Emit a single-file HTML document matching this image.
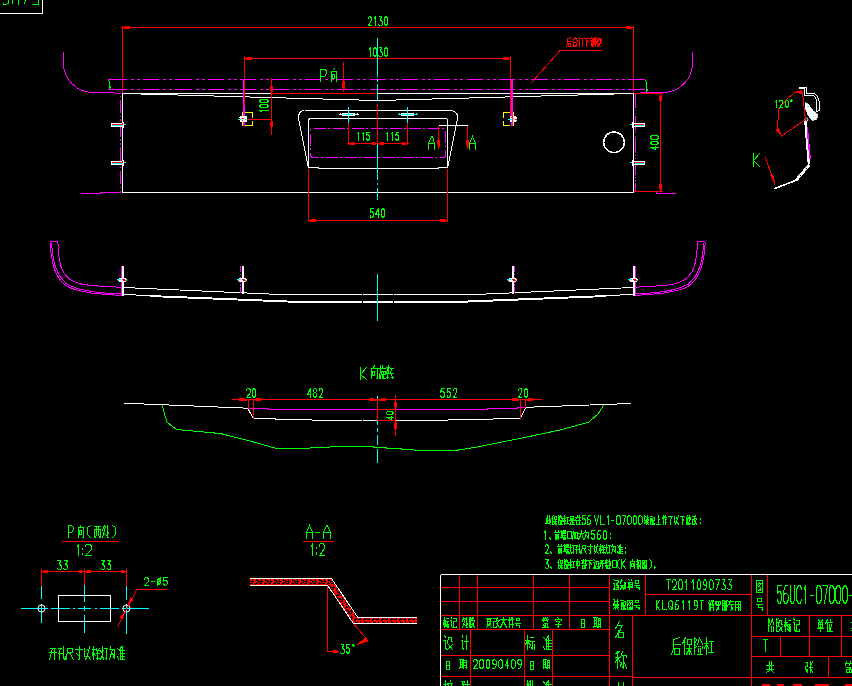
<!DOCTYPE html>
<html><head><meta charset="utf-8"><title>CAD drawing</title>
<style>
html,body{margin:0;padding:0;background:#000;overflow:hidden;font-family:"Liberation Sans",sans-serif;}
svg{display:block;position:absolute;left:0;top:0}
</style></head><body>
<svg width="852" height="686" viewBox="0 0 852 686" fill="none" stroke-linecap="butt" shape-rendering="crispEdges">
<defs><pattern id="hat" width="9" height="6" patternUnits="userSpaceOnUse" x="250" y="579"><rect width="9" height="6" fill="#f00"/><path d="M0 2.5H4M2.5 0V2M2.5 3V4.5H0M6.5 0V1.5H9M4.5 4.5H8M6.5 3V4M5.5 5V6M8.5 2V3.5" stroke="#000" stroke-width="1"/></pattern></defs>
<rect x="0" y="0" width="852" height="686" fill="#000" stroke="none"/>
<path d="M0 13.5L42.5 13.5L42.5 0" stroke="#ffffff" stroke-width="1"/>
<path d="M8 0V3.5L6.5 4.5H4L3 3.2" stroke="#00ff00" stroke-width="1"/>
<path d="M12.2 0L12.2 3.8" stroke="#00ff00" stroke-width="1"/>
<path d="M18.8 0L18.8 4.7" stroke="#00ff00" stroke-width="1"/>
<path d="M25.8 0L24 3.8" stroke="#00ff00" stroke-width="1"/>
<path d="M32 4.4L38 4.4L38 0" stroke="#00ff00" stroke-width="1"/>
<path d="M122.5 27.5L633.5 27.5" stroke="#ff0000" stroke-width="1"/>
<path d="M122.5 26L122.5 93" stroke="#ff0000" stroke-width="1"/>
<path d="M633.5 26L633.5 93" stroke="#ff0000" stroke-width="1"/>
<path d="M121 27.5L123 27.5" stroke="#ff0000" stroke-width="1"/>
<rect x="124" y="26.5" width="1.2" height="2" fill="#ff0000"/>
<rect x="125.2" y="26" width="4.8" height="3" fill="#ff0000"/>
<rect x="630.8" y="26.5" width="1.2" height="2" fill="#ff0000"/>
<rect x="626" y="26" width="4.8" height="3" fill="#ff0000"/>
<path d="M368.5 18.5L368.5 17.5L369.5 16.5L370.5 16.5L371.5 18.5L371.5 20.5L368.5 25.5L371.5 25.5M374.5 18.5L375.5 16.5L375.5 25.5M379.5 16.5L381.5 16.5L380.5 20.5L381.5 20.5L382.5 22.5L382.5 24.5L381.5 25.5L379.5 25.5L378.5 24.5M385.5 16.5L386.5 16.5L387.5 18.5L387.5 23.5L386.5 25.5L385.5 25.5L384.5 23.5L384.5 18.5L385.5 16.5" stroke="#00ff00" stroke-width="1" stroke-linecap="square"/>
<path d="M244.5 58.5L510.5 58.5" stroke="#ff0000" stroke-width="1"/>
<path d="M244.5 56L244.5 80" stroke="#ff0000" stroke-width="1"/>
<path d="M510.5 56L510.5 80" stroke="#ff0000" stroke-width="1"/>
<rect x="246" y="57.5" width="1.2" height="2" fill="#ff0000"/>
<rect x="247.2" y="57" width="4.8" height="3" fill="#ff0000"/>
<rect x="507.8" y="57.5" width="1.2" height="2" fill="#ff0000"/>
<rect x="503" y="57" width="4.8" height="3" fill="#ff0000"/>
<path d="M369.5 49.5L370.5 47.5L370.5 56.5M374.5 47.5L375.5 47.5L376.5 49.5L376.5 54.5L375.5 56.5L374.5 56.5L373.5 54.5L373.5 49.5L374.5 47.5M379.5 47.5L381.5 47.5L380.5 51.5L381.5 51.5L382.5 53.5L382.5 55.5L381.5 56.5L379.5 56.5L378.5 55.5M385.5 47.5L386.5 47.5L387.5 49.5L387.5 54.5L386.5 56.5L385.5 56.5L384.5 54.5L384.5 49.5L385.5 47.5" stroke="#00ff00" stroke-width="1" stroke-linecap="square"/>
<path d="M108 79.5L110.64 79.5" stroke="#ff00ff" stroke-width="1"/>
<path d="M110.64 79.5L647 79.5" stroke="#ff00ff" stroke-width="1" stroke-dasharray="16.2 4 3 3 3 3.16"/>
<path d="M108 89.5L110.64 89.5" stroke="#ff00ff" stroke-width="1"/>
<path d="M110.64 89.5L647 89.5" stroke="#ff00ff" stroke-width="1" stroke-dasharray="16.2 4 3 3 3 3.16"/>
<path d="M108.5 80.5L109.5 81.5V88.5" stroke="#00ff00" stroke-width="1"/>
<path d="M110.5 86L110.5 88" stroke="#00ff00" stroke-width="1"/>
<path d="M645.5 80.5L646.5 81.5V93.5" stroke="#00ff00" stroke-width="1"/>
<path d="M647.5 89L647.5 91" stroke="#00ff00" stroke-width="1"/>
<path d="M63.5 52V63A29.5 29.5 0 0 0 93 92.5H115M115 93.5H120.5V94" stroke="#ff00ff" stroke-width="1"/>
<path d="M692.5 52V63A29.5 29.5 0 0 1 663 92.5H641" stroke="#ff00ff" stroke-width="1"/>
<path d="M120.5 94L120.5 192" stroke="#ff00ff" stroke-width="1" stroke-dasharray="13.7 2.2 1.6 2.3 1.6 2.3" stroke-dashoffset="18.1"/>
<path d="M120.5 192.5L100 192.5L100 193.5L81 193.5" stroke="#ff00ff" stroke-width="1"/>
<path d="M635.5 94L635.5 192" stroke="#ff00ff" stroke-width="1" stroke-dasharray="14.4 2 1.3 2.1 1.3 1.35" stroke-dashoffset="0.75"/>
<path d="M633.5 191.5L656 191.5L656 193.5L676 193.5" stroke="#ff00ff" stroke-width="1"/>
<path d="M122.5 192.5L122.5 93.5L633.5 93.5L633.5 192.5" stroke="#ffffff" stroke-width="1"/>
<path d="M122.5 192.5L633.5 192.5" stroke="#ffffff" stroke-width="1"/>
<path d="M141 94.5L177.5 94.5" stroke="#ffffff" stroke-width="1"/>
<path d="M177.5 95.5L213.75 95.5" stroke="#ffffff" stroke-width="1"/>
<path d="M213.75 96.5L250 96.5" stroke="#ffffff" stroke-width="1"/>
<path d="M250 97.5L286 97.5" stroke="#ffffff" stroke-width="1"/>
<path d="M286 98.5L323 98.5" stroke="#ffffff" stroke-width="1"/>
<path d="M323 99.5L359 99.5" stroke="#ffffff" stroke-width="1"/>
<path d="M359 100.5L395.5 100.5" stroke="#ffffff" stroke-width="1"/>
<path d="M395.5 99.5L432 99.5" stroke="#ffffff" stroke-width="1"/>
<path d="M432 98.5L469 98.5" stroke="#ffffff" stroke-width="1"/>
<path d="M469 97.5L505 97.5" stroke="#ffffff" stroke-width="1"/>
<path d="M505 96.5L541 96.5" stroke="#ffffff" stroke-width="1"/>
<path d="M541 95.5L578 95.5" stroke="#ffffff" stroke-width="1"/>
<path d="M578 94.5L614 94.5" stroke="#ffffff" stroke-width="1"/>
<path d="M271 93.5L377.5 93.5" stroke="#ff0000" stroke-width="1"/>
<path d="M633.5 93.5L662.5 93.5" stroke="#ff0000" stroke-width="1"/>
<path d="M633.5 191.5L662.5 191.5" stroke="#ff0000" stroke-width="1"/>
<path d="M660.5 93.5L660.5 191.5" stroke="#ff0000" stroke-width="1"/>
<rect x="659.5" y="95" width="2" height="1.2" fill="#ff0000"/>
<rect x="659" y="96.2" width="3" height="4.8" fill="#ff0000"/>
<rect x="659.5" y="188.8" width="2" height="1.2" fill="#ff0000"/>
<rect x="659" y="184" width="3" height="4.8" fill="#ff0000"/>
<path d="M658.5 147.5L650.5 147.5L655.5 149.5L655.5 146.5M650.5 143.5L650.5 142.5L652.5 141.5L656.5 141.5L658.5 142.5L658.5 143.5L656.5 144.5L652.5 144.5L650.5 143.5M650.5 138.5L650.5 136.5L652.5 135.5L656.5 135.5L658.5 136.5L658.5 138.5L656.5 139.5L652.5 139.5L650.5 138.5" stroke="#00ff00" stroke-width="1" stroke-linecap="square"/>
<path d="M243.5 79.5L243.5 126" stroke="#ff00ff" stroke-width="1"/>
<path d="M244.5 106L244.5 126" stroke="#ff00ff" stroke-width="1"/>
<path d="M244.5 80L244.5 106" stroke="#ff0000" stroke-width="1"/>
<path d="M512 79.5L512 126" stroke="#ff00ff" stroke-width="2"/>
<path d="M510.5 80L510.5 116" stroke="#ff0000" stroke-width="1"/>
<path d="M271.5 78L271.5 135" stroke="#ff0000" stroke-width="1"/>
<path d="M247 119.5L271.5 119.5" stroke="#ff0000" stroke-width="1"/>
<rect x="270.5" y="90.8" width="2" height="1.2" fill="#ff0000"/>
<rect x="270" y="86" width="3" height="4.8" fill="#ff0000"/>
<rect x="270.5" y="121" width="2" height="1.2" fill="#ff0000"/>
<rect x="270" y="122.2" width="3" height="4.8" fill="#ff0000"/>
<path d="M261.5 111.5L259.5 110.5L268.5 110.5M259.5 106.5L259.5 105.5L261.5 104.5L266.5 104.5L268.5 105.5L268.5 106.5L266.5 107.5L261.5 107.5L259.5 106.5M259.5 101.5L259.5 100.5L261.5 99.5L266.5 99.5L268.5 100.5L268.5 101.5L266.5 102.5L261.5 102.5L259.5 101.5" stroke="#00ff00" stroke-width="1" stroke-linecap="square"/>
<path d="M245 112.5L252.5 112.5L252.5 118" stroke="#ffff00" stroke-width="1"/>
<path d="M252.5 121L252.5 125.5L245 125.5" stroke="#ffff00" stroke-width="1"/>
<path d="M242.5 112L242.5 126" stroke="#ffff00" stroke-width="1"/>
<path d="M510 112.5L503.5 112.5L503.5 118" stroke="#ffff00" stroke-width="1"/>
<path d="M503.5 121L503.5 125.5L510 125.5" stroke="#ffff00" stroke-width="1"/>
<path d="M513.5 112L513.5 126" stroke="#ffff00" stroke-width="1"/>
<path d="M240 116H247V122H240V118H239V117H240Z" fill="#fff"/>
<path d="M510 116H516V117H517V121H516V122H510Z" fill="#fff"/>
<path d="M238 119.5L241 119.5" stroke="#00ffff" stroke-width="1"/>
<path d="M245 119.5L247 119.5" stroke="#00ffff" stroke-width="1"/>
<path d="M245 117.5L246 117.5" stroke="#ffff00" stroke-width="1"/>
<path d="M242 118.5L244 118.5" stroke="#ff0000" stroke-width="1"/>
<path d="M242 120.5L243 120.5" stroke="#ff0000" stroke-width="1"/>
<path d="M508 119.5L515.5 119.5" stroke="#00ffff" stroke-width="1"/>
<path d="M510.5 117.5L512 117.5" stroke="#ff0000" stroke-width="1"/>
<path d="M514.5 119.5L517 119.5" stroke="#ff0000" stroke-width="1"/>
<path d="M512 116L512 122" stroke="#ff00ff" stroke-width="1"/>
<path d="M513.5 116L513.5 122" stroke="#ffff00" stroke-width="1"/>
<path d="M111 123.5L124 123.5" stroke="#ffffff" stroke-width="1"/>
<path d="M111 126.5L124 126.5" stroke="#ffffff" stroke-width="1"/>
<path d="M111.5 123L111.5 127" stroke="#ffffff" stroke-width="1"/>
<path d="M123.5 122L123.5 128" stroke="#ffffff" stroke-width="1"/>
<path d="M112 124.5L122.5 124.5" stroke="#ff0000" stroke-width="1"/>
<path d="M112 125.5L121.5 125.5" stroke="#00ffff" stroke-width="1"/>
<path d="M124 124.5L125.5 124.5" stroke="#00ffff" stroke-width="1"/>
<path d="M122 123.5L123 123.5" stroke="#ff0000" stroke-width="1"/>
<path d="M632 123.5L645 123.5" stroke="#ffffff" stroke-width="1"/>
<path d="M632 126.5L645 126.5" stroke="#ffffff" stroke-width="1"/>
<path d="M644.5 123L644.5 127" stroke="#ffffff" stroke-width="1"/>
<path d="M632.5 122L632.5 128" stroke="#ffffff" stroke-width="1"/>
<path d="M634 124.5L644 124.5" stroke="#ff0000" stroke-width="1"/>
<path d="M635 125.5L644 125.5" stroke="#00ffff" stroke-width="1"/>
<path d="M630 124.5L632 124.5" stroke="#00ffff" stroke-width="1"/>
<path d="M111 161.5L124 161.5" stroke="#ffffff" stroke-width="1"/>
<path d="M111 164.5L124 164.5" stroke="#ffffff" stroke-width="1"/>
<path d="M111.5 161L111.5 165" stroke="#ffffff" stroke-width="1"/>
<path d="M123.5 160L123.5 166" stroke="#ffffff" stroke-width="1"/>
<path d="M112 162.5L122.5 162.5" stroke="#ff0000" stroke-width="1"/>
<path d="M112 163.5L121.5 163.5" stroke="#00ffff" stroke-width="1"/>
<path d="M124 162.5L125.5 162.5" stroke="#00ffff" stroke-width="1"/>
<path d="M122 161.5L123 161.5" stroke="#ff0000" stroke-width="1"/>
<path d="M632 161.5L645 161.5" stroke="#ffffff" stroke-width="1"/>
<path d="M632 164.5L645 164.5" stroke="#ffffff" stroke-width="1"/>
<path d="M644.5 161L644.5 165" stroke="#ffffff" stroke-width="1"/>
<path d="M632.5 160L632.5 166" stroke="#ffffff" stroke-width="1"/>
<path d="M634 162.5L644 162.5" stroke="#ff0000" stroke-width="1"/>
<path d="M635 163.5L644 163.5" stroke="#00ffff" stroke-width="1"/>
<path d="M630 162.5L632 162.5" stroke="#00ffff" stroke-width="1"/>
<path d="M304.5 110.5H451Q457.5 111 457.5 117.5L457.2 119.7L447.8 167M308.2 167L298.8 119.7L298.5 117.5Q298.5 111 304.5 110.5" stroke="#ffffff" stroke-width="1"/>
<path d="M308.5 167.5V121Q308.5 118.5 311 118.5H445Q447.5 118.5 447.5 121V167.5" stroke="#ffffff" stroke-width="1"/>
<path d="M308.5 167.5H318.5V168.5H438.5V167.5H447.5" stroke="#ffffff" stroke-width="1"/>
<path d="M313.5 128.5H442.5Q445.5 128.5 445.5 131.5V154.5Q445.5 157.5 442.5 157.5H313.5Q310.5 157.5 310.5 154.5V131.5Q310.5 128.5 313.5 128.5Z" stroke="#ff00ff" stroke-width="1" stroke-dasharray="12 2.5 2 2.5"/>
<path d="M377.5 38L377.5 77" stroke="#00ffff" stroke-width="1"/>
<path d="M377.5 79L377.5 81.5" stroke="#00ffff" stroke-width="1"/>
<path d="M377.5 84L377.5 100.5" stroke="#00ffff" stroke-width="1"/>
<path d="M377.5 143.5L377.5 179.5" stroke="#00ffff" stroke-width="1"/>
<path d="M377.5 182.5L377.5 185" stroke="#00ffff" stroke-width="1"/>
<path d="M377.5 188L377.5 199.5" stroke="#00ffff" stroke-width="1"/>
<path d="M377.5 103.5L377.5 143" stroke="#ff0000" stroke-width="1"/>
<path d="M348.5 106.5L348.5 123" stroke="#00ffff" stroke-width="1"/>
<path d="M348.5 123L348.5 145" stroke="#ff0000" stroke-width="1"/>
<path d="M338.5 114.5L358.5 114.5" stroke="#ffffff" stroke-width="1"/>
<rect x="342.0" y="113" width="13" height="3" fill="#00ffff" stroke="none"/>
<rect x="342.5" y="113.5" width="12" height="2" stroke="#ffffff" stroke-width="1"/>
<path d="M348.5 106.5L348.5 123" stroke="#00ffff" stroke-width="1"/>
<path d="M339.5 113.5L340.5 113.5" stroke="#ffffff" stroke-width="1"/>
<path d="M356.5 113.5L357.5 113.5" stroke="#ffffff" stroke-width="1"/>
<path d="M407.5 106.5L407.5 123" stroke="#00ffff" stroke-width="1"/>
<path d="M407.5 123L407.5 145" stroke="#ff0000" stroke-width="1"/>
<path d="M397.5 114.5L417.5 114.5" stroke="#00ffff" stroke-width="1"/>
<rect x="401.0" y="113" width="13" height="3" fill="#00ffff" stroke="none"/>
<rect x="401.5" y="113.5" width="12" height="2" stroke="#ffffff" stroke-width="1"/>
<path d="M407.5 106.5L407.5 123" stroke="#00ffff" stroke-width="1"/>
<path d="M398.5 113.5L399.5 113.5" stroke="#00ffff" stroke-width="1"/>
<path d="M415.5 113.5L416.5 113.5" stroke="#00ffff" stroke-width="1"/>
<path d="M347 143.5L409 143.5" stroke="#ff0000" stroke-width="1"/>
<rect x="349.7" y="142.5" width="0.96" height="2" fill="#ff0000"/>
<rect x="350.66" y="142" width="3.84" height="3" fill="#ff0000"/>
<rect x="375.34" y="142.5" width="0.96" height="2" fill="#ff0000"/>
<rect x="371.5" y="142" width="3.84" height="3" fill="#ff0000"/>
<rect x="378.7" y="142.5" width="0.96" height="2" fill="#ff0000"/>
<rect x="379.66" y="142" width="3.84" height="3" fill="#ff0000"/>
<rect x="405.34" y="142.5" width="0.96" height="2" fill="#ff0000"/>
<rect x="401.5" y="142" width="3.84" height="3" fill="#ff0000"/>
<path d="M357.5 133.5L358.5 132.5L358.5 140.5M362.5 133.5L363.5 132.5L363.5 140.5M369.5 132.5L366.5 132.5L366.5 135.5L367.5 134.5L368.5 134.5L369.5 136.5L369.5 138.5L368.5 140.5L367.5 140.5L366.5 138.5" stroke="#00ff00" stroke-width="1" stroke-linecap="square"/>
<path d="M386.5 133.5L387.5 132.5L387.5 140.5M391.5 133.5L392.5 132.5L392.5 140.5M398.5 132.5L396.5 132.5L395.5 135.5L396.5 134.5L397.5 134.5L398.5 136.5L398.5 138.5L397.5 140.5L396.5 140.5L395.5 138.5" stroke="#00ff00" stroke-width="1" stroke-linecap="square"/>
<path d="M438.5 125.5L467.5 125.5" stroke="#ffffff" stroke-width="1"/>
<path d="M438.5 125.5L438.5 148.5" stroke="#ff0000" stroke-width="1"/>
<path d="M467.5 125.5L467.5 148.5" stroke="#ff0000" stroke-width="1"/>
<rect x="437.5" y="145.26" width="2" height="1.44" fill="#ff0000"/>
<rect x="437" y="139.5" width="3" height="5.76" fill="#ff0000"/>
<rect x="466.5" y="145.26" width="2" height="1.44" fill="#ff0000"/>
<rect x="466" y="139.5" width="3" height="5.76" fill="#ff0000"/>
<path d="M428.5 149.5L428.5 143.5L431.5 136.5L432.5 136.5L434.5 143.5L434.5 149.5M428.5 143.5L434.5 143.5" stroke="#00ff00" stroke-width="1" stroke-linecap="square"/>
<path d="M469.5 149.5L469.5 143.5L472.5 136.5L472.5 136.5L475.5 143.5L475.5 149.5M469.5 143.5L475.5 143.5" stroke="#00ff00" stroke-width="1" stroke-linecap="square"/>
<path d="M308.5 168.5L308.5 222" stroke="#ff0000" stroke-width="1"/>
<path d="M447.5 168.5L447.5 222" stroke="#ff0000" stroke-width="1"/>
<path d="M308.5 220.5L447.5 220.5" stroke="#ff0000" stroke-width="1"/>
<rect x="310" y="219.5" width="1.2" height="2" fill="#ff0000"/>
<rect x="311.2" y="219" width="4.8" height="3" fill="#ff0000"/>
<rect x="444.8" y="219.5" width="1.2" height="2" fill="#ff0000"/>
<rect x="440" y="219" width="4.8" height="3" fill="#ff0000"/>
<path d="M373.5 208.5L370.5 208.5L370.5 212.5L370.5 211.5L372.5 211.5L373.5 213.5L373.5 215.5L372.5 217.5L370.5 217.5L370.5 215.5M378.5 217.5L378.5 208.5L375.5 214.5L379.5 214.5M382.5 208.5L383.5 208.5L384.5 210.5L384.5 215.5L383.5 217.5L382.5 217.5L381.5 215.5L381.5 210.5L382.5 208.5" stroke="#00ff00" stroke-width="1" stroke-linecap="square"/>
<circle cx="614" cy="142.4" r="10.3" stroke="#ffffff" stroke-width="1.5"/>
<path d="M531.3 82.8L560 50.5L602 50.5" stroke="#ff0000" stroke-width="1"/>
<path d="M570.5 37.5L567.5 38.5M567.5 38.5L567.5 43.5L566.5 46.5M567.5 41.5L571.5 41.5M568.5 43.5L570.5 43.5L570.5 46.5L568.5 46.5L568.5 43.5M575.5 37.5L572.5 41.5M575.5 37.5L577.5 41.5M573.5 42.5L576.5 42.5M576.5 42.5L576.5 45.5M574.5 45.5L576.5 45.5M573.5 42.5L573.5 46.5M573.5 46.5L576.5 46.5M576.5 46.5L576.5 44.5M579.5 37.5L580.5 38.5M579.5 39.5L579.5 46.5M580.5 38.5L582.5 38.5L582.5 46.5M582.5 46.5L582.5 46.5M584.5 38.5L589.5 38.5M586.5 38.5L586.5 46.5M587.5 40.5L588.5 42.5M591.5 37.5L590.5 40.5M591.5 40.5L591.5 46.5M592.5 38.5L593.5 38.5M593.5 38.5L593.5 43.5M592.5 38.5L592.5 43.5M592.5 43.5L593.5 43.5M592.5 43.5L592.5 46.5M593.5 43.5L593.5 46.5M594.5 37.5L594.5 44.5M595.5 37.5L595.5 46.5M597.5 37.5L597.5 38.5M596.5 39.5L597.5 40.5M596.5 42.5L596.5 41.5M598.5 38.5L600.5 38.5M600.5 38.5L600.5 42.5M599.5 38.5L597.5 42.5M601.5 39.5L601.5 41.5M596.5 43.5L601.5 43.5M598.5 43.5L598.5 46.5M598.5 43.5L597.5 46.5M598.5 43.5L600.5 46.5" stroke="#ff0000" stroke-width="1" stroke-linecap="square"/>
<path d="M320.5 81.5L320.5 69.5L324.5 69.5L326.5 70.5L326.5 73.5L324.5 76.5L320.5 76.5" stroke="#00ff00" stroke-width="1" stroke-linecap="square"/>
<path d="M334.5 68.5L333.5 69.5M331.5 71.5L331.5 81.5M331.5 71.5L336.5 71.5M336.5 71.5L336.5 81.5M336.5 81.5L336.5 81.5M332.5 74.5L334.5 74.5M334.5 74.5L334.5 78.5M334.5 78.5L332.5 78.5M332.5 78.5L332.5 74.5" stroke="#00ff00" stroke-width="1" stroke-linecap="square"/>
<path d="M343.5 62L343.5 92" stroke="#ff0000" stroke-width="1"/>
<rect x="342.5" y="88.04" width="2" height="1.76" fill="#ff0000"/>
<rect x="342" y="81" width="3" height="7.04" fill="#ff0000"/>
<path d="M799.09 87.05L806.29 87.05L806.29 93.67L814.81 93.67L817.65 96.52L819.17 101.25L819.17 110.91L816.33 111.29" stroke="#ffffff" stroke-width="1"/>
<path d="M799.09 88.94L804.39 88.94L804.39 95.57L813.48 95.57L815.76 98.03L816.7 101.25L816.7 110.91" stroke="#ffffff" stroke-width="1"/>
<path d="M805.34 102.58L808.56 104.47L812.92 110.72L817.65 114.51L816.14 119.62L811.97 120.38L808.18 115.08L805.53 108.83Z" fill="#fff" stroke="#fff" stroke-width="0.8"/>
<path d="M806.67 105.61L808.56 107.12" stroke="#00ffff" stroke-width="1"/>
<path d="M812.92 116.4L814.43 117.35" stroke="#00ffff" stroke-width="1"/>
<circle cx="806.29" cy="119.81" r="1.6" stroke="#ffffff" stroke-width="1" shape-rendering="auto"/>
<path d="M802.5 91.78L794.92 92.35L786.4 99.36L778.83 108.83L777.31 129.66" stroke="#ff0000" stroke-width="1"/>
<path d="M795 92.3L801.5 90.6L801.8 93.4Z" fill="#f00" stroke="#f00" stroke-width="0.8"/>
<path d="M781.5 136L776 130.2L778.8 128.6Z" fill="#f00" stroke="#f00" stroke-width="0.8"/>
<path d="M777.31 129.66L781.67 135.91L805.34 119.62" stroke="#ff0000" stroke-width="1"/>
<path d="M802.5 91.78L805.34 119.62" stroke="#ff0000" stroke-width="1"/>
<path d="M775.5 101.5L776.5 100.5L776.5 107.5M779.5 101.5L779.5 100.5L780.5 100.5L782.5 100.5L782.5 101.5L782.5 103.5L779.5 107.5L782.5 107.5M786.5 100.5L787.5 100.5L788.5 101.5L788.5 105.5L787.5 107.5L786.5 107.5L785.5 105.5L785.5 101.5L786.5 100.5" stroke="#00ff00" stroke-width="1" stroke-linecap="square"/>
<path d="M791.3 99.7L792.3 100.7L791.3 101.7L790.3 100.7Z" stroke="#00ff00" stroke-width="1"/>
<path d="M804.96 121.14L808.56 164.7L794.92 180.8L773.71 188.94" stroke="#ffffff" stroke-width="1.6"/>
<path d="M806.29 120.76L809.7 164.32" stroke="#ffffff" stroke-width="1"/>
<path d="M796.82 180.8L809.7 165.64" stroke="#ffffff" stroke-width="1"/>
<path d="M807.23 126.82L810.08 159.02" stroke="#ff00ff" stroke-width="1.5"/>
<path d="M753.5 153.5L753.5 166.5M759.5 153.5L753.5 160.5M753.5 160.5L759.5 166.5" stroke="#00ff00" stroke-width="1" stroke-linecap="square"/>
<path d="M765.4 157.2L775 184.4" stroke="#ff0000" stroke-width="1"/>
<path d="M775 184.4L772.7 175.1L771 175.7Z" fill="#f00" stroke="#f00" stroke-width="1"/>
<path d="M57.9 241.7L58.5 254.3L60.8 266.1L63.3 271.8L66.7 276.4L70.6 279.8L75.5 282.2L81.5 284L88.7 285.2L106.3 286.6L121 287.2" stroke="#ff00ff" stroke-width="1"/>
<path d="M50 241.7L51.1 254.3L53.5 266.1L55.4 271.6L57.9 276.4L61.2 281.2L65.2 285.2L70.6 288.1L76.9 290.1L91.6 293.1L106.3 294.5L121 295.4" stroke="#ff00ff" stroke-width="1"/>
<path d="M51.5 243L52.6 254.3L55 265.6L59.3 275.5L66.4 283.8L77.5 288.7L92 291.7L106.3 293.1L121 294" stroke="#ff00ff" stroke-width="1"/>
<path d="M50 241.5L58 241.5" stroke="#ff00ff" stroke-width="1"/>
<path d="M697.4 241.7L696.8 254.3L694.5 266.1L692 271.8L688.6 276.4L684.7 279.8L679.8 282.2L673.8 284L666.6 285.2L649 286.6L634.3 287.2" stroke="#ff00ff" stroke-width="1"/>
<path d="M705.3 241.7L704.2 254.3L701.8 266.1L699.9 271.6L697.4 276.4L694.1 281.2L690.1 285.2L684.7 288.1L678.4 290.1L663.7 293.1L649 294.5L634.3 295.4" stroke="#ff00ff" stroke-width="1"/>
<path d="M703.8 243L702.7 254.3L700.3 265.6L696 275.5L688.9 283.8L677.8 288.7L663.3 291.7L649 293.1L634.3 294" stroke="#ff00ff" stroke-width="1"/>
<path d="M705.3 241.5L697.3 241.5" stroke="#ff00ff" stroke-width="1"/>
<path d="M123.5 287.5L280 294.5L475 294.5L633 287.5" stroke="#ffffff" stroke-width="1"/>
<path d="M123.5 294.5L300 301.5L455 301.5L633 294.5" stroke="#ffffff" stroke-width="1"/>
<path d="M150 296.5L300 302.5L455 302.5L606 296.5" stroke="#ffffff" stroke-width="1"/>
<path d="M362.5 293L362.5 304" stroke="#000" stroke-width="1"/>
<path d="M393 293L393 304" stroke="#000" stroke-width="1"/>
<path d="M123 266L123 295.5" stroke="#ffffff" stroke-width="2"/>
<path d="M121.5 266L121.5 295.5" stroke="#ff00ff" stroke-width="1"/>
<path d="M119 278H126V279H127V281H126V282H119V281H118V279H119Z" fill="#fff"/>
<path d="M117 279.5L121 279.5" stroke="#00ffff" stroke-width="1"/>
<path d="M125 280.5L127 280.5" stroke="#00ffff" stroke-width="1"/>
<path d="M122 279.5L125 279.5" stroke="#ff0000" stroke-width="1"/>
<path d="M123 280.5L126 280.5" stroke="#ff0000" stroke-width="1"/>
<path d="M242.5 266L242.5 293.5" stroke="#ffffff" stroke-width="2"/>
<path d="M240.5 266L240.5 293.5" stroke="#ff00ff" stroke-width="1" stroke-dasharray="6 1.5 1.5 1.5"/>
<path d="M238.5 278H245.5V279H246.5V281H245.5V282H238.5V281H237.5V279H238.5Z" fill="#fff"/>
<path d="M236.5 279.5L240.5 279.5" stroke="#00ffff" stroke-width="1"/>
<path d="M244.5 280.5L246.5 280.5" stroke="#00ffff" stroke-width="1"/>
<path d="M241.5 279.5L244.5 279.5" stroke="#ff0000" stroke-width="1"/>
<path d="M242.5 280.5L245.5 280.5" stroke="#ff0000" stroke-width="1"/>
<path d="M513 266L513 293.5" stroke="#ffffff" stroke-width="2"/>
<path d="M514.5 266L514.5 293.5" stroke="#ff00ff" stroke-width="1" stroke-dasharray="6 1.5 1.5 1.5"/>
<path d="M509 278H516V279H517V281H516V282H509V281H508V279H509Z" fill="#fff"/>
<path d="M507 279.5L511 279.5" stroke="#00ffff" stroke-width="1"/>
<path d="M515 280.5L517 280.5" stroke="#00ffff" stroke-width="1"/>
<path d="M512 279.5L515 279.5" stroke="#ff0000" stroke-width="1"/>
<path d="M513 280.5L516 280.5" stroke="#ff0000" stroke-width="1"/>
<path d="M633.5 266L633.5 295.5" stroke="#ffffff" stroke-width="2"/>
<path d="M635.5 266L635.5 295.5" stroke="#ff00ff" stroke-width="1"/>
<path d="M629.5 278H636.5V279H637.5V281H636.5V282H629.5V281H628.5V279H629.5Z" fill="#fff"/>
<path d="M627.5 279.5L631.5 279.5" stroke="#00ffff" stroke-width="1"/>
<path d="M635.5 280.5L637.5 280.5" stroke="#00ffff" stroke-width="1"/>
<path d="M632.5 279.5L635.5 279.5" stroke="#ff0000" stroke-width="1"/>
<path d="M633.5 280.5L636.5 280.5" stroke="#ff0000" stroke-width="1"/>
<path d="M377.5 274L377.5 320.5" stroke="#00ffff" stroke-width="1"/>
<path d="M360.5 367.5L360.5 379.5M366.5 367.5L360.5 374.5M360.5 374.5L366.5 379.5" stroke="#00ff00" stroke-width="1" stroke-linecap="square"/>
<path d="M374.5 365.5L373.5 367.5M371.5 368.5L371.5 378.5M371.5 368.5L377.5 368.5M377.5 368.5L377.5 378.5M377.5 378.5L376.5 378.5M372.5 371.5L374.5 371.5M374.5 371.5L374.5 375.5M374.5 375.5L372.5 375.5M372.5 375.5L372.5 371.5M380.5 365.5L380.5 367.5M378.5 368.5L381.5 368.5M380.5 368.5L379.5 378.5M380.5 371.5L381.5 371.5M381.5 371.5L380.5 378.5M382.5 365.5L382.5 367.5M382.5 368.5L385.5 368.5M382.5 371.5L385.5 371.5M385.5 371.5L385.5 373.5M383.5 371.5L383.5 378.5M383.5 374.5L385.5 374.5M382.5 374.5L382.5 378.5M382.5 378.5L385.5 378.5M386.5 367.5L389.5 367.5M388.5 365.5L386.5 373.5M386.5 373.5L389.5 373.5M388.5 368.5L387.5 378.5M386.5 377.5L388.5 377.5M390.5 368.5L393.5 368.5M390.5 373.5L393.5 373.5M391.5 368.5L390.5 373.5M391.5 373.5L392.5 378.5M391.5 377.5L393.5 377.5" stroke="#00ff00" stroke-width="1" stroke-linecap="square"/>
<path d="M377.5 396L377.5 425" stroke="#00ffff" stroke-width="1"/>
<path d="M377.5 428L377.5 431.5" stroke="#00ffff" stroke-width="1"/>
<path d="M377.5 434.5L377.5 445" stroke="#00ffff" stroke-width="1"/>
<path d="M377.5 449L377.5 462.5" stroke="#00ffff" stroke-width="1"/>
<path d="M124.3 403.2L247.8 408.2L253.2 418.4L330 420.5L425 420.5L520.5 418.4L525.9 407.3L631.4 403.5" stroke="#ffffff" stroke-width="1"/>
<path d="M361.6 420.5L363.2 420.5" stroke="#000" stroke-width="1"/>
<path d="M162.3 405L164.5 414L167 422.2L176.5 429.5L220.9 433.6L250 441L276.4 448.5L300 448.5L340 446.5L373 446.5L374 447.5L386.5 447.5L387 448.5L401 448.5L402 449.5L425 450.5L452.4 451L480 446.5L522 438L560 430L588.6 422.2L598 414L603.8 405" stroke="#00ff00" stroke-width="1"/>
<path d="M248.7 408.5L268 408.5L268 409.5L487.7 409.5L487.7 408.5L517.3 408.5L517.3 407.5L525.5 407.5" stroke="#ff00ff" stroke-width="1"/>
<path d="M232 399.5L542 399.5" stroke="#ff0000" stroke-width="1"/>
<path d="M248.5 399.5L248.5 409" stroke="#ff0000" stroke-width="1"/>
<path d="M253.5 399.5L253.5 418.5" stroke="#ff0000" stroke-width="1"/>
<path d="M520.5 399.5L520.5 418.5" stroke="#ff0000" stroke-width="1"/>
<path d="M525.9 399.5L525.9 407.5" stroke="#ff0000" stroke-width="1"/>
<path d="M377.5 399.5L377.5 420.5" stroke="#ff0000" stroke-width="1"/>
<rect x="245.08" y="398.5" width="1.52" height="2" fill="#ff0000"/>
<rect x="239" y="398" width="6.08" height="3" fill="#ff0000"/>
<rect x="255" y="398.5" width="1.2" height="2" fill="#ff0000"/>
<rect x="256.2" y="398" width="4.8" height="3" fill="#ff0000"/>
<rect x="374.37" y="398.5" width="1.39" height="2" fill="#ff0000"/>
<rect x="368.8" y="398" width="5.57" height="3" fill="#ff0000"/>
<rect x="379.24" y="398.5" width="1.39" height="2" fill="#ff0000"/>
<rect x="380.63" y="398" width="5.57" height="3" fill="#ff0000"/>
<rect x="517.55" y="398.5" width="1.31" height="2" fill="#ff0000"/>
<rect x="512.3" y="398" width="5.25" height="3" fill="#ff0000"/>
<rect x="527.3" y="398.5" width="1.12" height="2" fill="#ff0000"/>
<rect x="528.42" y="398" width="4.48" height="3" fill="#ff0000"/>
<path d="M246.5 390.5L246.5 389.5L247.5 388.5L249.5 388.5L250.5 390.5L250.5 392.5L246.5 397.5L250.5 397.5M253.5 388.5L254.5 388.5L255.5 390.5L255.5 395.5L254.5 397.5L253.5 397.5L252.5 395.5L252.5 390.5L253.5 388.5" stroke="#00ff00" stroke-width="1" stroke-linecap="square"/>
<path d="M310.5 397.5L310.5 388.5L307.5 394.5L310.5 394.5M314.5 388.5L315.5 388.5L316.5 389.5L316.5 391.5L315.5 392.5L314.5 392.5L313.5 391.5L313.5 389.5L314.5 388.5M314.5 392.5L313.5 393.5L313.5 395.5L314.5 397.5L315.5 397.5L316.5 395.5L316.5 393.5L315.5 392.5M319.5 390.5L319.5 389.5L319.5 388.5L321.5 388.5L322.5 390.5L322.5 392.5L319.5 397.5L322.5 397.5" stroke="#00ff00" stroke-width="1" stroke-linecap="square"/>
<path d="M444.5 388.5L441.5 388.5L440.5 392.5L441.5 391.5L443.5 391.5L444.5 393.5L444.5 395.5L443.5 397.5L441.5 397.5L440.5 395.5M450.5 388.5L447.5 388.5L447.5 392.5L447.5 391.5L449.5 391.5L450.5 393.5L450.5 395.5L449.5 397.5L447.5 397.5L447.5 395.5M453.5 390.5L453.5 389.5L454.5 388.5L456.5 388.5L456.5 390.5L456.5 392.5L453.5 397.5L456.5 397.5" stroke="#00ff00" stroke-width="1" stroke-linecap="square"/>
<path d="M518.5 390.5L518.5 389.5L519.5 388.5L521.5 388.5L521.5 390.5L521.5 392.5L518.5 397.5L521.5 397.5M525.5 388.5L526.5 388.5L527.5 390.5L527.5 395.5L526.5 397.5L525.5 397.5L524.5 395.5L524.5 390.5L525.5 388.5" stroke="#00ff00" stroke-width="1" stroke-linecap="square"/>
<path d="M395.5 394.5L395.5 436" stroke="#ff0000" stroke-width="1"/>
<path d="M377.5 409.5L395.5 409.5" stroke="#ff0000" stroke-width="1"/>
<path d="M377.5 420.5L395.5 420.5" stroke="#ff0000" stroke-width="1"/>
<rect x="394.5" y="406.62" width="2" height="1.28" fill="#ff0000"/>
<rect x="394" y="401.5" width="3" height="5.12" fill="#ff0000"/>
<rect x="394.5" y="422.1" width="2" height="1.28" fill="#ff0000"/>
<rect x="394" y="423.38" width="3" height="5.12" fill="#ff0000"/>
<path d="M393.5 417.5L386.5 417.5L391.5 419.5L391.5 416.5M386.5 413.5L386.5 412.5L387.5 411.5L391.5 411.5L393.5 412.5L393.5 413.5L391.5 414.5L387.5 414.5L386.5 413.5" stroke="#00ff00" stroke-width="1" stroke-linecap="square"/>
<path d="M68.5 537.5L68.5 525.5L71.5 525.5L73.5 527.5L73.5 529.5L71.5 532.5L68.5 532.5" stroke="#00ff00" stroke-width="1" stroke-linecap="square"/>
<path d="M80.5 525.5L80.5 526.5M78.5 527.5L78.5 537.5M78.5 527.5L83.5 527.5M83.5 527.5L83.5 537.5M83.5 537.5L82.5 537.5M79.5 530.5L81.5 530.5M81.5 530.5L81.5 534.5M81.5 534.5L79.5 534.5M79.5 534.5L79.5 530.5M90.5 525.5L87.5 527.5L87.5 534.5L90.5 537.5M94.5 526.5L100.5 526.5M94.5 529.5L94.5 537.5M94.5 529.5L100.5 529.5M100.5 529.5L100.5 537.5M96.5 526.5L96.5 534.5M98.5 526.5L98.5 534.5M96.5 534.5L95.5 537.5M98.5 534.5L99.5 537.5M104.5 525.5L102.5 530.5M103.5 526.5L105.5 526.5M105.5 526.5L102.5 537.5M103.5 532.5L108.5 537.5M107.5 525.5L107.5 537.5M107.5 530.5L108.5 533.5M112.5 525.5L115.5 527.5L115.5 534.5L112.5 537.5" stroke="#00ff00" stroke-width="1" stroke-linecap="square"/>
<path d="M62 541.5L119 541.5" stroke="#ff0000" stroke-width="1"/>
<path d="M77.5 546.5L78.5 544.5L78.5 555.5" stroke="#00ff00" stroke-width="1" stroke-linecap="square"/>
<path d="M82.5 548.5L82.5 549.5M82.5 553.5L82.5 554.5" stroke="#00ff00" stroke-width="1" stroke-linecap="square"/>
<path d="M85.5 546.5L85.5 545.5L86.5 544.5L90.5 544.5L91.5 546.5L91.5 549.5L85.5 555.5L91.5 555.5" stroke="#00ff00" stroke-width="1" stroke-linecap="square"/>
<path d="M57.5 560.5L60.5 560.5L59.5 564.5L60.5 564.5L61.5 566.5L61.5 568.5L60.5 569.5L58.5 569.5L57.5 568.5M64.5 560.5L67.5 560.5L65.5 564.5L66.5 564.5L67.5 566.5L67.5 568.5L66.5 569.5L64.5 569.5L63.5 568.5" stroke="#00ff00" stroke-width="1" stroke-linecap="square"/>
<path d="M101.5 560.5L104.5 560.5L102.5 564.5L103.5 564.5L104.5 566.5L104.5 568.5L103.5 569.5L101.5 569.5L100.5 568.5M107.5 560.5L110.5 560.5L108.5 564.5L110.5 564.5L110.5 566.5L110.5 568.5L110.5 569.5L108.5 569.5L107.5 568.5" stroke="#00ff00" stroke-width="1" stroke-linecap="square"/>
<path d="M41.5 571.5L126.5 571.5" stroke="#ff0000" stroke-width="1"/>
<path d="M41.5 569L41.5 585.5" stroke="#ff0000" stroke-width="1"/>
<path d="M84.5 569L84.5 585" stroke="#ff0000" stroke-width="1"/>
<path d="M126.5 569L126.5 585.5" stroke="#ff0000" stroke-width="1"/>
<rect x="42.7" y="570.5" width="0.96" height="2" fill="#ff0000"/>
<rect x="43.66" y="570" width="3.84" height="3" fill="#ff0000"/>
<rect x="82.34" y="570.5" width="0.96" height="2" fill="#ff0000"/>
<rect x="78.5" y="570" width="3.84" height="3" fill="#ff0000"/>
<rect x="85.7" y="570.5" width="0.96" height="2" fill="#ff0000"/>
<rect x="86.66" y="570" width="3.84" height="3" fill="#ff0000"/>
<rect x="124.34" y="570.5" width="0.96" height="2" fill="#ff0000"/>
<rect x="120.5" y="570" width="3.84" height="3" fill="#ff0000"/>
<path d="M41.5 585.5L41.5 599" stroke="#00ffff" stroke-width="1"/>
<path d="M41.5 604L41.5 623" stroke="#00ffff" stroke-width="1"/>
<path d="M84.5 585L84.5 602.3" stroke="#00ffff" stroke-width="1"/>
<path d="M84.5 606.4L84.5 610.5" stroke="#00ffff" stroke-width="1"/>
<path d="M84.5 614.5L84.5 632.5" stroke="#00ffff" stroke-width="1"/>
<path d="M126.5 585.5L126.5 600" stroke="#00ffff" stroke-width="1"/>
<path d="M126.5 604L126.5 633.5" stroke="#00ffff" stroke-width="1"/>
<path d="M21.2 608.5L47.9 608.5" stroke="#00ffff" stroke-width="1"/>
<path d="M51.1 608.5L70 608.5" stroke="#00ffff" stroke-width="1"/>
<path d="M72.5 608.5L75 608.5" stroke="#00ffff" stroke-width="1"/>
<path d="M78.3 608.5L91.4 608.5" stroke="#00ffff" stroke-width="1"/>
<path d="M94.7 608.5L97.2 608.5" stroke="#00ffff" stroke-width="1"/>
<path d="M100.4 608.5L118.5 608.5" stroke="#00ffff" stroke-width="1"/>
<path d="M121.8 608.5L149 608.5" stroke="#00ffff" stroke-width="1"/>
<rect x="58.5" y="595.5" width="52" height="26" stroke="#ffffff"/>
<circle cx="41.5" cy="608.5" r="3.6" stroke="#ffffff" shape-rendering="auto"/>
<circle cx="126.5" cy="608.5" r="3.6" stroke="#ffffff" shape-rendering="auto"/>
<path d="M117.5 626.7L136.8 589.5L166.5 589.5" stroke="#ff0000" stroke-width="1"/>
<path d="M128.2 605.3L130.3 597.9L133 599.3Z" fill="#f00" stroke="#f00" stroke-width="0.8"/>
<path d="M124.8 611.7L122.7 619.1L120 617.7Z" fill="#f00" stroke="#f00" stroke-width="0.8"/>
<path d="M144.5 579.5L144.5 578.5L145.5 577.5L147.5 577.5L148.5 579.5L148.5 581.5L144.5 585.5L148.5 585.5M151.5 581.5L154.5 581.5M158.5 578.5L159.5 578.5L160.5 580.5L160.5 582.5L159.5 584.5L158.5 584.5L157.5 582.5L157.5 580.5L158.5 578.5M157.5 585.5L160.5 577.5M167.5 577.5L163.5 577.5L163.5 581.5L164.5 580.5L165.5 580.5L167.5 581.5L167.5 583.5L165.5 585.5L164.5 585.5L163.5 583.5" stroke="#00ff00" stroke-width="1" stroke-linecap="square"/>
<path d="M50.5 648.5L55.5 648.5M49.5 652.5L56.5 652.5M52.5 648.5L49.5 659.5M54.5 648.5L54.5 659.5M58.5 648.5L61.5 648.5M61.5 648.5L59.5 650.5M59.5 650.5L59.5 659.5M59.5 659.5L59.5 658.5M58.5 653.5L62.5 653.5M63.5 646.5L63.5 658.5M63.5 658.5L65.5 659.5M65.5 659.5L65.5 656.5M67.5 648.5L72.5 648.5M72.5 648.5L72.5 652.5M67.5 652.5L72.5 652.5M67.5 648.5L66.5 659.5M69.5 652.5L73.5 659.5M75.5 649.5L82.5 649.5M79.5 646.5L79.5 659.5M79.5 659.5L78.5 659.5M76.5 653.5L78.5 655.5M84.5 648.5L84.5 656.5M84.5 656.5L86.5 656.5M86.5 650.5L87.5 649.5M89.5 646.5L87.5 655.5M87.5 655.5L85.5 659.5M88.5 656.5L90.5 659.5M92.5 649.5L95.5 649.5M93.5 646.5L93.5 659.5M93.5 649.5L92.5 655.5M93.5 652.5L95.5 655.5M96.5 648.5L96.5 649.5M99.5 648.5L98.5 649.5M96.5 650.5L99.5 650.5M96.5 653.5L99.5 653.5M96.5 658.5L99.5 658.5M97.5 650.5L97.5 659.5M102.5 646.5L102.5 655.5M102.5 655.5L100.5 659.5M102.5 655.5L103.5 659.5M100.5 650.5L101.5 652.5M103.5 650.5L103.5 650.5M104.5 648.5L107.5 648.5M106.5 648.5L106.5 659.5M106.5 659.5L105.5 658.5M110.5 646.5L110.5 648.5M109.5 649.5L114.5 649.5M114.5 649.5L114.5 658.5M114.5 658.5L113.5 656.5M112.5 649.5L109.5 659.5M112.5 653.5L113.5 655.5M117.5 648.5L118.5 649.5M118.5 659.5L117.5 656.5M121.5 646.5L119.5 650.5M120.5 650.5L120.5 659.5M122.5 646.5L122.5 659.5M120.5 650.5L124.5 650.5M120.5 653.5L124.5 653.5M120.5 656.5L124.5 656.5M120.5 659.5L124.5 659.5" stroke="#00ff00" stroke-width="1" stroke-linecap="square"/>
<path d="M306.5 538.5L306.5 532.5L309.5 525.5L309.5 525.5L312.5 532.5L312.5 538.5M306.5 532.5L312.5 532.5" stroke="#00ff00" stroke-width="1" stroke-linecap="square"/>
<path d="M315.5 532.5L319.5 532.5" stroke="#00ff00" stroke-width="1" stroke-linecap="square"/>
<path d="M323.5 538.5L323.5 532.5L326.5 525.5L327.5 525.5L330.5 532.5L330.5 538.5M323.5 532.5L330.5 532.5" stroke="#00ff00" stroke-width="1" stroke-linecap="square"/>
<path d="M303 541.5L334 541.5" stroke="#ff0000" stroke-width="1"/>
<path d="M311.5 546.5L312.5 543.5L312.5 555.5" stroke="#00ff00" stroke-width="1" stroke-linecap="square"/>
<path d="M316.5 547.5L316.5 548.5M316.5 552.5L316.5 554.5" stroke="#00ff00" stroke-width="1" stroke-linecap="square"/>
<path d="M319.5 546.5L319.5 544.5L320.5 543.5L323.5 543.5L324.5 546.5L324.5 548.5L319.5 555.5L324.5 555.5" stroke="#00ff00" stroke-width="1" stroke-linecap="square"/>
<path d="M250 578.5H331.5L357.9 617.5H416.5V623.5H353.5L327.7 585.5H250Z" fill="url(#hat)" stroke="none"/>
<path d="M250 578.5L331.5 578.5L357.9 617.5L416.5 617.5" stroke="#ffffff" stroke-width="1"/>
<path d="M250 585.5L327.7 585.5L353.5 623.5L416.5 623.5" stroke="#ffffff" stroke-width="1"/>
<path d="M327.5 585.5L327.5 651.5L339 651.5" stroke="#ff0000" stroke-width="1"/>
<rect x="336.84" y="650.5" width="0.96" height="2" fill="#ff0000"/>
<rect x="333" y="650" width="3.84" height="3" fill="#ff0000"/>
<path d="M341.5 644.5L343.5 644.5L342.5 648.5L343.5 648.5L344.5 650.5L344.5 652.5L343.5 653.5L341.5 653.5L340.5 652.5M349.5 644.5L346.5 644.5L346.5 648.5L347.5 647.5L348.5 647.5L349.5 649.5L349.5 651.5L348.5 653.5L347.5 653.5L346.5 651.5" stroke="#00ff00" stroke-width="1" stroke-linecap="square"/>
<path d="M353.1 644.3L354.1 645.3L353.1 646.3L352.1 645.3Z" stroke="#00ff00" stroke-width="1"/>
<path d="M353.5 623.6L366.7 639.1" stroke="#ff0000" stroke-width="1"/>
<path d="M357 644.6L365.4 638.2L367.6 641.2Z" fill="#f00" stroke="#f00" stroke-width="1"/>
<path d="M547.5 515.5L547.5 523.5M546.5 518.5L546.5 523.5M547.5 520.5L548.5 520.5M545.5 523.5L548.5 523.5M549.5 515.5L549.5 523.5M549.5 523.5L550.5 524.5M550.5 519.5L550.5 522.5M553.5 515.5L551.5 518.5M552.5 517.5L552.5 524.5M554.5 516.5L556.5 516.5M556.5 516.5L556.5 519.5M556.5 519.5L554.5 519.5M554.5 519.5L554.5 516.5M555.5 519.5L555.5 524.5M553.5 521.5L556.5 521.5M555.5 521.5L553.5 524.5M555.5 521.5L556.5 524.5M558.5 515.5L558.5 524.5M558.5 515.5L559.5 516.5M559.5 516.5L558.5 519.5M558.5 519.5L559.5 520.5M559.5 520.5L558.5 521.5M560.5 515.5L559.5 519.5M560.5 515.5L562.5 519.5M560.5 520.5L561.5 520.5M560.5 521.5L560.5 523.5M561.5 521.5L561.5 524.5M562.5 521.5L562.5 520.5M559.5 524.5L562.5 524.5M563.5 518.5L565.5 518.5M564.5 515.5L564.5 524.5M564.5 518.5L563.5 521.5M564.5 518.5L565.5 521.5M566.5 517.5L568.5 517.5M567.5 517.5L567.5 523.5M565.5 523.5L568.5 523.5M570.5 516.5L573.5 516.5M570.5 516.5L570.5 519.5M573.5 516.5L573.5 519.5M570.5 519.5L573.5 519.5M570.5 518.5L573.5 518.5M569.5 520.5L574.5 520.5M572.5 520.5L572.5 524.5M572.5 522.5L573.5 522.5M571.5 521.5L569.5 524.5M570.5 524.5L574.5 524.5M575.5 517.5L580.5 517.5M577.5 515.5L575.5 520.5M576.5 520.5L576.5 524.5M577.5 520.5L580.5 520.5M579.5 515.5L579.5 524.5M577.5 524.5L580.5 524.5" stroke="#00ff00" stroke-width="1" stroke-linecap="square"/>
<path d="M585.5 515.5L582.5 515.5L582.5 519.5L582.5 518.5L584.5 518.5L585.5 520.5L585.5 522.5L584.5 524.5L582.5 524.5L582.5 522.5M590.5 515.5L588.5 515.5L587.5 518.5L587.5 522.5L587.5 524.5L589.5 524.5L590.5 522.5L590.5 520.5L589.5 519.5L587.5 519.5L587.5 520.5" stroke="#00ff00" stroke-width="1" stroke-linecap="square"/>
<path d="M594.5 515.5L596.5 524.5L598.5 515.5M600.5 515.5L600.5 524.5L604.5 524.5" stroke="#00ff00" stroke-width="1" stroke-linecap="square"/>
<path d="M607.5 517.5L608.5 515.5L608.5 524.5" stroke="#00ff00" stroke-width="1" stroke-linecap="square"/>
<path d="M611.5 520.5L613.5 520.5" stroke="#00ff00" stroke-width="1" stroke-linecap="square"/>
<path d="M617.5 515.5L619.5 515.5L620.5 517.5L620.5 522.5L619.5 524.5L617.5 524.5L616.5 522.5L616.5 517.5L617.5 515.5M622.5 515.5L625.5 515.5L623.5 524.5M628.5 515.5L629.5 515.5L631.5 517.5L631.5 522.5L629.5 524.5L628.5 524.5L627.5 522.5L627.5 517.5L628.5 515.5M634.5 515.5L635.5 515.5L636.5 517.5L636.5 522.5L635.5 524.5L634.5 524.5L633.5 522.5L633.5 517.5L634.5 515.5M639.5 515.5L640.5 515.5L642.5 517.5L642.5 522.5L640.5 524.5L639.5 524.5L638.5 522.5L638.5 517.5L639.5 515.5" stroke="#00ff00" stroke-width="1" stroke-linecap="square"/>
<path d="M644.5 515.5L644.5 519.5M644.5 515.5L645.5 516.5M644.5 519.5L644.5 518.5M646.5 517.5L648.5 517.5M647.5 515.5L647.5 519.5M646.5 519.5L648.5 519.5M644.5 520.5L648.5 520.5M646.5 520.5L646.5 524.5M645.5 521.5L644.5 523.5M646.5 521.5L648.5 524.5M647.5 521.5L648.5 522.5M650.5 516.5L652.5 516.5M650.5 518.5L650.5 524.5M650.5 518.5L652.5 518.5M652.5 518.5L652.5 524.5M650.5 524.5L652.5 524.5M651.5 518.5L651.5 521.5M652.5 518.5L652.5 521.5M650.5 521.5L652.5 521.5M653.5 517.5L654.5 517.5M654.5 517.5L654.5 520.5M654.5 520.5L653.5 520.5M653.5 520.5L653.5 524.5M653.5 524.5L654.5 524.5M654.5 524.5L654.5 523.5M658.5 515.5L658.5 524.5M658.5 519.5L659.5 519.5M656.5 524.5L660.5 524.5M663.5 515.5L662.5 518.5M663.5 517.5L663.5 524.5M665.5 515.5L664.5 517.5M664.5 517.5L666.5 517.5M665.5 516.5L665.5 524.5M665.5 519.5L666.5 519.5M665.5 522.5L666.5 522.5M668.5 516.5L672.5 516.5M672.5 516.5L670.5 519.5M670.5 519.5L670.5 524.5M670.5 524.5L670.5 523.5M674.5 516.5L674.5 522.5M674.5 522.5L676.5 522.5M676.5 518.5L676.5 517.5M678.5 515.5L676.5 521.5M676.5 521.5L675.5 524.5M677.5 522.5L678.5 524.5M680.5 516.5L684.5 516.5M682.5 516.5L682.5 524.5M682.5 518.5L683.5 520.5M687.5 515.5L686.5 518.5M686.5 518.5L686.5 524.5M687.5 518.5L687.5 524.5M689.5 515.5L688.5 518.5M688.5 517.5L690.5 517.5M690.5 517.5L688.5 523.5M689.5 517.5L690.5 519.5M690.5 523.5L689.5 524.5M690.5 523.5L688.5 524.5M692.5 516.5L694.5 516.5M694.5 516.5L694.5 519.5M694.5 519.5L692.5 519.5M692.5 519.5L692.5 524.5M692.5 524.5L694.5 524.5M695.5 515.5L694.5 518.5M694.5 518.5L696.5 518.5M696.5 518.5L694.5 524.5M694.5 520.5L696.5 524.5" stroke="#00ff00" stroke-width="1" stroke-linecap="square"/>
<path d="M700.5 518.5L700.5 519.5M700.5 522.5L700.5 523.5" stroke="#00ff00" stroke-width="1" stroke-linecap="square"/>
<path d="M544.5 532.5L545.5 530.5L545.5 539.5" stroke="#00ff00" stroke-width="1" stroke-linecap="square"/>
<path d="M549.5 537.5L550.5 539.5" stroke="#00ff00" stroke-width="1" stroke-linecap="square"/>
<path d="M555.5 530.5L555.5 531.5M558.5 530.5L558.5 531.5M554.5 532.5L559.5 532.5M555.5 534.5L555.5 539.5M555.5 534.5L556.5 534.5M556.5 534.5L556.5 539.5M555.5 536.5L556.5 536.5M555.5 538.5L556.5 538.5M557.5 534.5L557.5 538.5M558.5 534.5L558.5 539.5M558.5 539.5L558.5 538.5M561.5 530.5L561.5 531.5M560.5 531.5L562.5 531.5M561.5 532.5L561.5 536.5M562.5 532.5L562.5 536.5M560.5 537.5L562.5 537.5M563.5 530.5L563.5 533.5M564.5 530.5L564.5 533.5M565.5 530.5L565.5 533.5M563.5 533.5L565.5 533.5M562.5 535.5L565.5 535.5M563.5 537.5L563.5 539.5M563.5 537.5L565.5 537.5M565.5 537.5L565.5 539.5M564.5 535.5L564.5 539.5M567.5 531.5L571.5 531.5L571.5 538.5L567.5 538.5L567.5 531.5M572.5 532.5L574.5 532.5M574.5 532.5L574.5 538.5M574.5 538.5L574.5 537.5M573.5 531.5L572.5 539.5M575.5 532.5L577.5 532.5M577.5 532.5L577.5 538.5M577.5 538.5L575.5 538.5M575.5 538.5L575.5 532.5M578.5 533.5L583.5 533.5M581.5 530.5L581.5 533.5M581.5 533.5L578.5 539.5M581.5 533.5L583.5 539.5M585.5 530.5L585.5 531.5M584.5 532.5L588.5 532.5M588.5 532.5L588.5 538.5M588.5 538.5L587.5 537.5M586.5 532.5L584.5 539.5M586.5 535.5L587.5 536.5" stroke="#00ff00" stroke-width="1" stroke-linecap="square"/>
<path d="M594.5 530.5L591.5 530.5L591.5 534.5L592.5 533.5L593.5 533.5L594.5 535.5L594.5 537.5L593.5 539.5L592.5 539.5L591.5 537.5M600.5 530.5L598.5 530.5L597.5 533.5L597.5 537.5L598.5 539.5L599.5 539.5L600.5 537.5L600.5 535.5L599.5 534.5L598.5 534.5L597.5 535.5M604.5 530.5L605.5 530.5L606.5 532.5L606.5 537.5L605.5 539.5L604.5 539.5L603.5 537.5L603.5 532.5L604.5 530.5" stroke="#00ff00" stroke-width="1" stroke-linecap="square"/>
<path d="M610.5 533.5L610.5 534.5M610.5 537.5L610.5 538.5" stroke="#00ff00" stroke-width="1" stroke-linecap="square"/>
<path d="M545.5 546.5L545.5 545.5L546.5 544.5L547.5 544.5L548.5 546.5L548.5 548.5L545.5 553.5L548.5 553.5" stroke="#00ff00" stroke-width="1" stroke-linecap="square"/>
<path d="M550.5 551.5L551.5 553.5" stroke="#00ff00" stroke-width="1" stroke-linecap="square"/>
<path d="M558.5 544.5L558.5 545.5M561.5 544.5L561.5 545.5M557.5 546.5L562.5 546.5M558.5 548.5L558.5 553.5M558.5 548.5L559.5 548.5M559.5 548.5L559.5 553.5M558.5 550.5L559.5 550.5M558.5 552.5L559.5 552.5M560.5 548.5L560.5 552.5M561.5 548.5L561.5 553.5M561.5 553.5L561.5 552.5M564.5 544.5L564.5 545.5M563.5 545.5L565.5 545.5M564.5 546.5L564.5 550.5M565.5 546.5L565.5 550.5M563.5 551.5L565.5 551.5M566.5 544.5L566.5 547.5M567.5 544.5L567.5 547.5M568.5 544.5L568.5 547.5M566.5 547.5L568.5 547.5M565.5 549.5L568.5 549.5M566.5 551.5L566.5 553.5M566.5 551.5L568.5 551.5M568.5 551.5L568.5 553.5M567.5 549.5L567.5 553.5M570.5 544.5L570.5 550.5M570.5 550.5L569.5 553.5M570.5 550.5L571.5 553.5M569.5 547.5L570.5 548.5M571.5 547.5L571.5 547.5M572.5 545.5L574.5 545.5M573.5 545.5L573.5 553.5M573.5 553.5L572.5 552.5M575.5 545.5L577.5 545.5M577.5 545.5L576.5 547.5M576.5 547.5L576.5 553.5M576.5 553.5L576.5 552.5M575.5 549.5L578.5 549.5M579.5 544.5L579.5 552.5M579.5 552.5L580.5 553.5M580.5 553.5L580.5 551.5M582.5 545.5L585.5 545.5M585.5 545.5L585.5 548.5M582.5 548.5L585.5 548.5M582.5 545.5L581.5 553.5M583.5 548.5L586.5 553.5M587.5 546.5L592.5 546.5M590.5 544.5L590.5 553.5M590.5 553.5L589.5 553.5M588.5 549.5L589.5 550.5M594.5 545.5L594.5 551.5M594.5 551.5L595.5 551.5M595.5 547.5L596.5 546.5M597.5 544.5L596.5 550.5M596.5 550.5L594.5 553.5M596.5 551.5L598.5 553.5M599.5 546.5L601.5 546.5M600.5 544.5L600.5 553.5M600.5 546.5L599.5 550.5M600.5 548.5L601.5 550.5M602.5 545.5L602.5 546.5M604.5 545.5L603.5 546.5M602.5 547.5L604.5 547.5M602.5 549.5L604.5 549.5M602.5 552.5L604.5 552.5M603.5 547.5L603.5 553.5M606.5 544.5L606.5 550.5M606.5 550.5L605.5 553.5M606.5 550.5L607.5 553.5M605.5 547.5L606.5 548.5M607.5 547.5L607.5 547.5M608.5 545.5L610.5 545.5M609.5 545.5L609.5 553.5M609.5 553.5L608.5 552.5M612.5 544.5L612.5 545.5M611.5 546.5L615.5 546.5M615.5 546.5L615.5 552.5M615.5 552.5L614.5 551.5M613.5 546.5L611.5 553.5M613.5 549.5L614.5 550.5M617.5 545.5L618.5 546.5M618.5 553.5L617.5 551.5M620.5 544.5L618.5 547.5M619.5 547.5L619.5 553.5M620.5 544.5L620.5 553.5M619.5 547.5L622.5 547.5M619.5 549.5L622.5 549.5M619.5 551.5L622.5 551.5M619.5 553.5L622.5 553.5" stroke="#00ff00" stroke-width="1" stroke-linecap="square"/>
<path d="M625.5 547.5L625.5 548.5M625.5 551.5L625.5 553.5" stroke="#00ff00" stroke-width="1" stroke-linecap="square"/>
<path d="M545.5 559.5L548.5 559.5L546.5 563.5L547.5 563.5L548.5 565.5L548.5 567.5L547.5 568.5L546.5 568.5L545.5 567.5" stroke="#00ff00" stroke-width="1" stroke-linecap="square"/>
<path d="M550.5 566.5L551.5 568.5" stroke="#00ff00" stroke-width="1" stroke-linecap="square"/>
<path d="M559.5 559.5L557.5 562.5M558.5 561.5L558.5 568.5M560.5 560.5L562.5 560.5M562.5 560.5L562.5 563.5M562.5 563.5L560.5 563.5M560.5 563.5L560.5 560.5M561.5 563.5L561.5 568.5M559.5 565.5L562.5 565.5M561.5 565.5L559.5 568.5M561.5 565.5L562.5 568.5M564.5 559.5L564.5 568.5M564.5 559.5L565.5 560.5M565.5 560.5L564.5 563.5M564.5 563.5L565.5 564.5M565.5 564.5L564.5 565.5M566.5 559.5L565.5 563.5M566.5 559.5L568.5 563.5M566.5 564.5L567.5 564.5M566.5 565.5L566.5 567.5M567.5 565.5L567.5 568.5M568.5 565.5L568.5 564.5M565.5 568.5L568.5 568.5M569.5 562.5L571.5 562.5M570.5 559.5L570.5 568.5M570.5 562.5L569.5 565.5M570.5 562.5L571.5 565.5M572.5 561.5L574.5 561.5M573.5 561.5L573.5 567.5M571.5 567.5L574.5 567.5M576.5 561.5L579.5 561.5M579.5 561.5L579.5 565.5M579.5 565.5L576.5 565.5M576.5 565.5L576.5 561.5M577.5 559.5L577.5 568.5M583.5 559.5L583.5 560.5M581.5 560.5L584.5 560.5M582.5 560.5L582.5 563.5M583.5 560.5L583.5 563.5M581.5 563.5L584.5 563.5M582.5 565.5L584.5 565.5M584.5 565.5L584.5 568.5M584.5 568.5L582.5 568.5M582.5 568.5L582.5 565.5M585.5 559.5L585.5 568.5M585.5 559.5L586.5 560.5M586.5 560.5L585.5 563.5M585.5 563.5L586.5 564.5M586.5 564.5L585.5 566.5M587.5 560.5L592.5 560.5M589.5 560.5L589.5 568.5M590.5 562.5L591.5 564.5M593.5 559.5L594.5 560.5M593.5 562.5L594.5 562.5M594.5 562.5L594.5 566.5M594.5 566.5L593.5 568.5M593.5 568.5L598.5 568.5M595.5 561.5L598.5 561.5M598.5 561.5L598.5 567.5M598.5 567.5L597.5 566.5M596.5 561.5L595.5 568.5M600.5 560.5L603.5 560.5M599.5 563.5L604.5 563.5M601.5 560.5L599.5 568.5M602.5 560.5L602.5 568.5M606.5 559.5L605.5 563.5M605.5 560.5L607.5 560.5M605.5 562.5L607.5 562.5M606.5 561.5L606.5 568.5M605.5 565.5L606.5 568.5M606.5 568.5L607.5 568.5M607.5 568.5L607.5 565.5M608.5 561.5L610.5 561.5M610.5 561.5L610.5 565.5M608.5 565.5L610.5 565.5M609.5 559.5L609.5 568.5M609.5 568.5L608.5 568.5M609.5 568.5L610.5 568.5M612.5 560.5L616.5 560.5L616.5 567.5L612.5 567.5L612.5 560.5" stroke="#00ff00" stroke-width="1" stroke-linecap="square"/>
<path d="M619.5 559.5L617.5 561.5L617.5 566.5L619.5 568.5" stroke="#00ff00" stroke-width="1" stroke-linecap="square"/>
<path d="M621.5 559.5L621.5 568.5M625.5 559.5L621.5 564.5M622.5 564.5L625.5 568.5" stroke="#00ff00" stroke-width="1" stroke-linecap="square"/>
<path d="M632.5 559.5L632.5 560.5M630.5 561.5L630.5 568.5M630.5 561.5L634.5 561.5M634.5 561.5L634.5 568.5M634.5 568.5L634.5 568.5M631.5 563.5L633.5 563.5M633.5 563.5L633.5 566.5M633.5 566.5L631.5 566.5M631.5 566.5L631.5 563.5M637.5 559.5L637.5 560.5M636.5 561.5L638.5 561.5M638.5 561.5L636.5 564.5M637.5 563.5L637.5 568.5M637.5 564.5L638.5 566.5M638.5 560.5L640.5 560.5M640.5 560.5L640.5 565.5M638.5 560.5L638.5 565.5M638.5 565.5L640.5 565.5M639.5 565.5L638.5 568.5M640.5 565.5L640.5 568.5M640.5 568.5L640.5 568.5M640.5 568.5L640.5 566.5M642.5 560.5L646.5 560.5M646.5 560.5L646.5 568.5M646.5 568.5L642.5 568.5M642.5 568.5L642.5 560.5M644.5 561.5L643.5 563.5M643.5 562.5L645.5 562.5M645.5 562.5L643.5 564.5M644.5 564.5L645.5 566.5M644.5 566.5L645.5 566.5M643.5 567.5L645.5 567.5" stroke="#00ff00" stroke-width="1" stroke-linecap="square"/>
<path d="M649.5 559.5L651.5 561.5L651.5 566.5L649.5 568.5" stroke="#00ff00" stroke-width="1" stroke-linecap="square"/>
<path d="M654.5 566.5L654.5 566.5L655.5 567.5L654.5 568.5L654.5 566.5" stroke="#00ff00" stroke-width="1" stroke-linecap="square"/>
<path d="M440.5 574.5L852 574.5" stroke="#ffffff" stroke-width="1"/>
<path d="M440.5 574.5L440.5 686" stroke="#ffffff" stroke-width="1"/>
<path d="M441 587.5L609.5 587.5" stroke="#ff0000" stroke-width="1"/>
<path d="M441 601.5L609.5 601.5" stroke="#ff0000" stroke-width="1"/>
<path d="M441 615.5L609.5 615.5" stroke="#ff0000" stroke-width="1"/>
<path d="M441 629.5L609.5 629.5" stroke="#ff0000" stroke-width="1"/>
<path d="M441 655.5L609.5 655.5" stroke="#ff0000" stroke-width="1"/>
<path d="M441 676.5L609.5 676.5" stroke="#ff0000" stroke-width="1"/>
<path d="M459.5 575L459.5 629.5" stroke="#ff0000" stroke-width="1"/>
<path d="M477.5 575L477.5 629.5" stroke="#ff0000" stroke-width="1"/>
<path d="M533.5 575L533.5 629.5" stroke="#ff0000" stroke-width="1"/>
<path d="M569.5 575L569.5 629.5" stroke="#ff0000" stroke-width="1"/>
<path d="M609.5 575L609.5 686" stroke="#ff0000" stroke-width="1"/>
<path d="M470.5 629.5L470.5 686" stroke="#ff0000" stroke-width="1"/>
<path d="M524.5 629.5L524.5 686" stroke="#ff0000" stroke-width="1"/>
<path d="M552.5 629.5L552.5 686" stroke="#ff0000" stroke-width="1"/>
<path d="M609.5 615.5L852 615.5" stroke="#ff0000" stroke-width="1"/>
<path d="M632.5 615.5L632.5 686" stroke="#ff0000" stroke-width="1"/>
<path d="M645.5 575L645.5 615.5" stroke="#ff0000" stroke-width="1"/>
<path d="M645.5 594.5L751.5 594.5" stroke="#ff0000" stroke-width="1"/>
<path d="M751.5 575L751.5 686" stroke="#ff0000" stroke-width="1"/>
<path d="M767.5 575L767.5 615.5" stroke="#ff0000" stroke-width="1"/>
<path d="M751.5 636.5L852 636.5" stroke="#ff0000" stroke-width="1"/>
<path d="M751.5 656.5L852 656.5" stroke="#ff0000" stroke-width="1"/>
<path d="M632.5 677.5L852 677.5" stroke="#ff0000" stroke-width="1"/>
<path d="M809.5 615.5L809.5 656.5" stroke="#ff0000" stroke-width="1"/>
<path d="M841.5 615.5L841.5 656.5" stroke="#ff0000" stroke-width="1"/>
<path d="M780.5 636.5L780.5 656.5" stroke="#ff0000" stroke-width="1"/>
<path d="M828.5 656.5L828.5 677.5" stroke="#ff0000" stroke-width="1"/>
<path d="M609.5 676.5L632.5 676.5" stroke="#ff0000" stroke-width="1"/>
<path d="M761.6 685L770 685" stroke="#ff0000" stroke-width="2"/>
<path d="M777.4 685L784 685" stroke="#ff0000" stroke-width="2"/>
<path d="M793.2 685L801.5 685" stroke="#ff0000" stroke-width="2"/>
<path d="M814.8 685L829 685" stroke="#ff0000" stroke-width="2"/>
<path d="M844.7 685L852 685" stroke="#ff0000" stroke-width="2"/>
<path d="M443.5 620.5L445.5 620.5M444.5 617.5L444.5 627.5M444.5 620.5L443.5 624.5M444.5 620.5L445.5 624.5M446.5 618.5L448.5 618.5M445.5 621.5L448.5 621.5M447.5 621.5L447.5 627.5M447.5 627.5L446.5 626.5M446.5 624.5L445.5 626.5M448.5 624.5L448.5 627.5M451.5 617.5L451.5 618.5M450.5 620.5L451.5 620.5M451.5 620.5L451.5 626.5M451.5 626.5L452.5 627.5M453.5 618.5L456.5 618.5M456.5 618.5L456.5 621.5M456.5 621.5L453.5 621.5M453.5 621.5L453.5 627.5M453.5 627.5L456.5 627.5M456.5 627.5L456.5 626.5" stroke="#00ff00" stroke-width="1" stroke-linecap="square"/>
<path d="M463.5 617.5L462.5 621.5M463.5 618.5L465.5 618.5M465.5 618.5L462.5 627.5M463.5 623.5L467.5 627.5M466.5 617.5L466.5 627.5M466.5 621.5L467.5 624.5M469.5 617.5L469.5 623.5M470.5 617.5L470.5 623.5M472.5 617.5L469.5 623.5M469.5 620.5L472.5 620.5M470.5 620.5L469.5 624.5M469.5 624.5L470.5 624.5M469.5 624.5L470.5 627.5M471.5 624.5L469.5 627.5M469.5 626.5L471.5 626.5M473.5 617.5L472.5 620.5M472.5 620.5L474.5 620.5M474.5 620.5L471.5 627.5M472.5 623.5L474.5 627.5" stroke="#00ff00" stroke-width="1" stroke-linecap="square"/>
<path d="M486.5 618.5L491.5 618.5M487.5 619.5L490.5 619.5M487.5 619.5L487.5 624.5M490.5 619.5L490.5 624.5M487.5 624.5L490.5 624.5M487.5 621.5L490.5 621.5M489.5 623.5L486.5 627.5M488.5 624.5L491.5 627.5M493.5 618.5L496.5 618.5M496.5 618.5L496.5 621.5M496.5 621.5L493.5 621.5M493.5 621.5L493.5 627.5M493.5 627.5L496.5 627.5M497.5 617.5L496.5 620.5M496.5 620.5L499.5 620.5M498.5 620.5L496.5 627.5M496.5 623.5L499.5 627.5M503.5 617.5L503.5 618.5M500.5 619.5L506.5 619.5M504.5 619.5L500.5 627.5M502.5 619.5L506.5 627.5M509.5 617.5L508.5 620.5M509.5 619.5L509.5 627.5M511.5 617.5L510.5 620.5M510.5 619.5L513.5 619.5M510.5 624.5L513.5 624.5M512.5 617.5L512.5 627.5M516.5 618.5L519.5 618.5M519.5 618.5L519.5 620.5M519.5 620.5L516.5 620.5M516.5 620.5L516.5 618.5M515.5 623.5L520.5 623.5M516.5 623.5L516.5 625.5M516.5 625.5L519.5 625.5M519.5 625.5L519.5 627.5M519.5 627.5L519.5 626.5" stroke="#00ff00" stroke-width="1" stroke-linecap="square"/>
<path d="M543.5 617.5L542.5 620.5M542.5 619.5L544.5 619.5M547.5 617.5L545.5 620.5M546.5 619.5L548.5 619.5M545.5 617.5L543.5 621.5M545.5 617.5L547.5 621.5M544.5 623.5L547.5 623.5M543.5 624.5L544.5 626.5M545.5 624.5L545.5 626.5M547.5 624.5L547.5 626.5M542.5 627.5L548.5 627.5" stroke="#00ff00" stroke-width="1" stroke-linecap="square"/>
<path d="M557.5 617.5L558.5 618.5M555.5 619.5L561.5 619.5M555.5 619.5L555.5 620.5M561.5 619.5L561.5 620.5M556.5 621.5L559.5 621.5M559.5 621.5L558.5 624.5M558.5 624.5L558.5 627.5M558.5 627.5L557.5 626.5M555.5 624.5L561.5 624.5" stroke="#00ff00" stroke-width="1" stroke-linecap="square"/>
<path d="M581.5 619.5L584.5 619.5M584.5 619.5L584.5 627.5M584.5 627.5L581.5 627.5M581.5 627.5L581.5 619.5M581.5 623.5L584.5 623.5" stroke="#00ff00" stroke-width="1" stroke-linecap="square"/>
<path d="M594.5 617.5L594.5 626.5M596.5 617.5L596.5 626.5M593.5 617.5L597.5 617.5M594.5 620.5L596.5 620.5M594.5 623.5L596.5 623.5M593.5 626.5L597.5 626.5M594.5 625.5L593.5 627.5M596.5 625.5L597.5 627.5M598.5 618.5L600.5 618.5M600.5 618.5L600.5 627.5M600.5 627.5L599.5 626.5M598.5 618.5L598.5 627.5M598.5 620.5L600.5 620.5M598.5 624.5L600.5 624.5" stroke="#00ff00" stroke-width="1" stroke-linecap="square"/>
<path d="M444.5 635.5L445.5 637.5M443.5 640.5L445.5 640.5M445.5 640.5L445.5 647.5M445.5 647.5L446.5 649.5M448.5 637.5L451.5 637.5M448.5 637.5L447.5 643.5M451.5 637.5L451.5 641.5M451.5 641.5L452.5 641.5M448.5 644.5L452.5 649.5M452.5 644.5L447.5 649.5" stroke="#00ff00" stroke-width="1" stroke-linecap="square"/>
<path d="M462.5 635.5L462.5 637.5M461.5 640.5L462.5 640.5M462.5 640.5L462.5 647.5M462.5 647.5L463.5 649.5M464.5 641.5L468.5 641.5M466.5 635.5L466.5 649.5" stroke="#00ff00" stroke-width="1" stroke-linecap="square"/>
<path d="M525.5 640.5L529.5 640.5M527.5 635.5L527.5 649.5M527.5 640.5L525.5 644.5M527.5 640.5L529.5 644.5M530.5 637.5L533.5 637.5M529.5 641.5L534.5 641.5M532.5 641.5L532.5 649.5M532.5 649.5L531.5 647.5M530.5 644.5L529.5 647.5M534.5 644.5L534.5 649.5" stroke="#00ff00" stroke-width="1" stroke-linecap="square"/>
<path d="M543.5 637.5L544.5 638.5M544.5 649.5L543.5 646.5M548.5 635.5L545.5 640.5M546.5 640.5L546.5 649.5M548.5 635.5L548.5 649.5M546.5 640.5L551.5 640.5M546.5 643.5L551.5 643.5M546.5 646.5L551.5 646.5M546.5 649.5L551.5 649.5" stroke="#00ff00" stroke-width="1" stroke-linecap="square"/>
<path d="M446.5 661.5L449.5 661.5M449.5 661.5L449.5 669.5M449.5 669.5L446.5 669.5M446.5 669.5L446.5 661.5M446.5 665.5L449.5 665.5" stroke="#00ff00" stroke-width="1" stroke-linecap="square"/>
<path d="M460.5 659.5L460.5 667.5M462.5 659.5L462.5 667.5M459.5 659.5L463.5 659.5M460.5 662.5L462.5 662.5M460.5 664.5L462.5 664.5M459.5 667.5L463.5 667.5M460.5 666.5L459.5 668.5M462.5 666.5L463.5 668.5M463.5 660.5L466.5 660.5M466.5 660.5L466.5 668.5M466.5 668.5L465.5 667.5M463.5 660.5L463.5 668.5M463.5 662.5L466.5 662.5M463.5 665.5L466.5 665.5" stroke="#00ff00" stroke-width="1" stroke-linecap="square"/>
<path d="M473.5 661.5L473.5 660.5L474.5 659.5L476.5 659.5L477.5 661.5L477.5 663.5L473.5 668.5L477.5 668.5M480.5 659.5L482.5 659.5L483.5 661.5L483.5 666.5L482.5 668.5L480.5 668.5L479.5 666.5L479.5 661.5L480.5 659.5M487.5 659.5L488.5 659.5L489.5 661.5L489.5 666.5L488.5 668.5L487.5 668.5L486.5 666.5L486.5 661.5L487.5 659.5M496.5 663.5L495.5 664.5L493.5 664.5L492.5 662.5L492.5 661.5L493.5 659.5L494.5 659.5L496.5 661.5L496.5 665.5L494.5 668.5L492.5 668.5M500.5 659.5L501.5 659.5L502.5 661.5L502.5 666.5L501.5 668.5L500.5 668.5L498.5 666.5L498.5 661.5L500.5 659.5M507.5 668.5L507.5 659.5L505.5 665.5L508.5 665.5M512.5 659.5L513.5 659.5L515.5 661.5L515.5 666.5L513.5 668.5L512.5 668.5L511.5 666.5L511.5 661.5L512.5 659.5M521.5 663.5L520.5 664.5L518.5 664.5L517.5 662.5L517.5 661.5L518.5 659.5L520.5 659.5L521.5 661.5L521.5 665.5L519.5 668.5L518.5 668.5" stroke="#00ff00" stroke-width="1" stroke-linecap="square"/>
<path d="M530.5 661.5L533.5 661.5M533.5 661.5L533.5 669.5M533.5 669.5L530.5 669.5M530.5 669.5L530.5 661.5M530.5 665.5L533.5 665.5" stroke="#00ff00" stroke-width="1" stroke-linecap="square"/>
<path d="M543.5 659.5L543.5 667.5M545.5 659.5L545.5 667.5M543.5 659.5L546.5 659.5M543.5 662.5L545.5 662.5M543.5 664.5L545.5 664.5M543.5 667.5L546.5 667.5M543.5 666.5L543.5 668.5M545.5 666.5L546.5 668.5M547.5 660.5L549.5 660.5M549.5 660.5L549.5 668.5M549.5 668.5L548.5 667.5M547.5 660.5L547.5 668.5M547.5 662.5L549.5 662.5M547.5 665.5L549.5 665.5" stroke="#00ff00" stroke-width="1" stroke-linecap="square"/>
<path d="M443.5 684.5L447.5 684.5M445.5 680.5L445.5 693.5M445.5 684.5L443.5 689.5M445.5 684.5L447.5 689.5M450.5 680.5L450.5 681.5M447.5 683.5L452.5 683.5M448.5 684.5L447.5 689.5M451.5 684.5L452.5 689.5M451.5 687.5L447.5 693.5M448.5 687.5L452.5 693.5" stroke="#00ff00" stroke-width="1" stroke-linecap="square"/>
<path d="M461.5 681.5L464.5 681.5M464.5 681.5L461.5 693.5M462.5 681.5L464.5 693.5M464.5 684.5L469.5 684.5M467.5 680.5L467.5 693.5M467.5 693.5L466.5 692.5M465.5 686.5L466.5 687.5" stroke="#00ff00" stroke-width="1" stroke-linecap="square"/>
<path d="M526.5 684.5L529.5 684.5M527.5 680.5L527.5 693.5M527.5 693.5L527.5 692.5M526.5 690.5L529.5 681.5M530.5 680.5L530.5 693.5M530.5 687.5L532.5 687.5M532.5 680.5L532.5 693.5M532.5 693.5L533.5 693.5M533.5 693.5L533.5 692.5M532.5 686.5L533.5 687.5" stroke="#00ff00" stroke-width="1" stroke-linecap="square"/>
<path d="M543.5 681.5L544.5 683.5M544.5 693.5L543.5 690.5M548.5 680.5L545.5 684.5M546.5 684.5L546.5 693.5M548.5 680.5L548.5 693.5M546.5 684.5L551.5 684.5M546.5 687.5L551.5 687.5M546.5 690.5L551.5 690.5M546.5 693.5L551.5 693.5" stroke="#00ff00" stroke-width="1" stroke-linecap="square"/>
<path d="M613.5 579.5L614.5 580.5M613.5 583.5L614.5 583.5M614.5 583.5L614.5 587.5M614.5 587.5L613.5 589.5M613.5 589.5L618.5 589.5M615.5 580.5L618.5 580.5M618.5 580.5L617.5 584.5M616.5 583.5L618.5 585.5M616.5 583.5L618.5 588.5M618.5 585.5L618.5 588.5M616.5 585.5L618.5 585.5M616.5 587.5L618.5 587.5M617.5 583.5L618.5 588.5M621.5 579.5L620.5 583.5M621.5 580.5L622.5 580.5M620.5 585.5L623.5 585.5M622.5 585.5L620.5 589.5M622.5 585.5L623.5 589.5M624.5 582.5L625.5 582.5M625.5 582.5L625.5 588.5M625.5 588.5L624.5 588.5M624.5 588.5L624.5 582.5M628.5 579.5L629.5 580.5M631.5 579.5L631.5 580.5M628.5 582.5L632.5 582.5M632.5 582.5L632.5 586.5M632.5 586.5L628.5 586.5M628.5 586.5L628.5 582.5M628.5 584.5L632.5 584.5M629.5 582.5L629.5 589.5M627.5 587.5L632.5 587.5M635.5 580.5L638.5 580.5M638.5 580.5L638.5 583.5M638.5 583.5L635.5 583.5M635.5 583.5L635.5 580.5M634.5 585.5L639.5 585.5M636.5 585.5L636.5 587.5M636.5 587.5L639.5 587.5M639.5 587.5L639.5 589.5M639.5 589.5L638.5 588.5" stroke="#00ff00" stroke-width="1" stroke-linecap="square"/>
<path d="M614.5 599.5L614.5 604.5M613.5 599.5L614.5 600.5M613.5 604.5L614.5 602.5M615.5 601.5L618.5 601.5M617.5 599.5L617.5 604.5M615.5 604.5L618.5 604.5M613.5 605.5L618.5 605.5M616.5 605.5L615.5 609.5M615.5 606.5L613.5 608.5M616.5 606.5L618.5 609.5M617.5 606.5L618.5 607.5M620.5 600.5L623.5 600.5M621.5 602.5L621.5 609.5M621.5 602.5L623.5 602.5M623.5 602.5L623.5 609.5M621.5 609.5L623.5 609.5M621.5 602.5L621.5 606.5M622.5 602.5L622.5 606.5M621.5 606.5L623.5 606.5M624.5 601.5L625.5 601.5M625.5 601.5L625.5 605.5M625.5 605.5L624.5 605.5M624.5 605.5L624.5 609.5M624.5 609.5L625.5 609.5M625.5 609.5L625.5 608.5M627.5 600.5L632.5 600.5M632.5 600.5L632.5 609.5M632.5 609.5L627.5 609.5M627.5 609.5L627.5 600.5M629.5 601.5L628.5 604.5M629.5 602.5L631.5 602.5M631.5 602.5L629.5 605.5M629.5 605.5L631.5 607.5M629.5 607.5L631.5 607.5M629.5 608.5L631.5 608.5M635.5 600.5L638.5 600.5M638.5 600.5L638.5 602.5M638.5 602.5L635.5 602.5M635.5 602.5L635.5 600.5M634.5 605.5L639.5 605.5M636.5 605.5L636.5 607.5M636.5 607.5L639.5 607.5M639.5 607.5L639.5 609.5M639.5 609.5L638.5 608.5" stroke="#00ff00" stroke-width="1" stroke-linecap="square"/>
<path d="M619.5 621.5L615.5 628.5M618.5 625.5L622.5 625.5M622.5 625.5L615.5 637.5M618.5 630.5L620.5 630.5M618.5 632.5L623.5 632.5M623.5 632.5L623.5 637.5M623.5 637.5L618.5 637.5M618.5 637.5L618.5 632.5" stroke="#00ff00" stroke-width="1" stroke-linecap="square"/>
<path d="M619.5 651.5L615.5 653.5M615.5 657.5L620.5 657.5M617.5 651.5L617.5 668.5M617.5 657.5L615.5 662.5M617.5 657.5L620.5 662.5M622.5 651.5L620.5 657.5M621.5 655.5L626.5 655.5M626.5 655.5L626.5 657.5M623.5 655.5L623.5 668.5M623.5 668.5L622.5 666.5M621.5 662.5L620.5 666.5M624.5 662.5L626.5 668.5" stroke="#00ff00" stroke-width="1" stroke-linecap="square"/>
<path d="M666.5 579.5L670.5 579.5M668.5 579.5L668.5 589.5M672.5 582.5L672.5 580.5L673.5 579.5L675.5 579.5L676.5 582.5L676.5 584.5L672.5 589.5L676.5 589.5M679.5 579.5L681.5 579.5L682.5 582.5L682.5 587.5L681.5 589.5L679.5 589.5L678.5 587.5L678.5 582.5L679.5 579.5M685.5 582.5L686.5 579.5L686.5 589.5M691.5 582.5L693.5 579.5L693.5 589.5M698.5 579.5L699.5 579.5L700.5 582.5L700.5 587.5L699.5 589.5L698.5 589.5L697.5 587.5L697.5 582.5L698.5 579.5M706.5 584.5L706.5 585.5L704.5 585.5L703.5 583.5L703.5 582.5L704.5 579.5L705.5 579.5L706.5 582.5L706.5 586.5L705.5 589.5L703.5 589.5M710.5 579.5L711.5 579.5L713.5 582.5L713.5 587.5L711.5 589.5L710.5 589.5L709.5 587.5L709.5 582.5L710.5 579.5M715.5 579.5L719.5 579.5L716.5 589.5M722.5 579.5L724.5 579.5L723.5 584.5L724.5 584.5L725.5 586.5L725.5 588.5L724.5 589.5L722.5 589.5L721.5 588.5M728.5 579.5L731.5 579.5L729.5 584.5L730.5 584.5L731.5 586.5L731.5 588.5L730.5 589.5L728.5 589.5L727.5 588.5" stroke="#00ff00" stroke-width="1" stroke-linecap="square"/>
<path d="M656.5 600.5L656.5 609.5M659.5 600.5L656.5 605.5M656.5 605.5L659.5 609.5M662.5 600.5L662.5 609.5L666.5 609.5M670.5 600.5L671.5 600.5L672.5 602.5L672.5 607.5L671.5 609.5L670.5 609.5L668.5 607.5L668.5 602.5L670.5 600.5M670.5 606.5L672.5 609.5M678.5 600.5L676.5 600.5L675.5 603.5L675.5 607.5L675.5 609.5L677.5 609.5L678.5 607.5L678.5 605.5L677.5 604.5L675.5 604.5L675.5 605.5M682.5 602.5L683.5 600.5L683.5 609.5M688.5 602.5L689.5 600.5L689.5 609.5M697.5 604.5L696.5 605.5L694.5 605.5L694.5 603.5L694.5 602.5L694.5 600.5L696.5 600.5L697.5 602.5L697.5 606.5L696.5 609.5L694.5 609.5M700.5 600.5L703.5 600.5M701.5 600.5L701.5 609.5" stroke="#00ff00" stroke-width="1" stroke-linecap="square"/>
<path d="M709.5 600.5L708.5 603.5M709.5 603.5L709.5 610.5M711.5 600.5L710.5 603.5M710.5 604.5L710.5 604.5M710.5 604.5L710.5 610.5M710.5 607.5L713.5 607.5M711.5 604.5L713.5 604.5M712.5 600.5L713.5 610.5M713.5 604.5L713.5 607.5M713.5 600.5L713.5 601.5M715.5 601.5L720.5 601.5M720.5 601.5L720.5 604.5M720.5 604.5L715.5 604.5M715.5 604.5L715.5 601.5M716.5 601.5L716.5 604.5M718.5 601.5L718.5 604.5M717.5 605.5L716.5 605.5M717.5 605.5L719.5 605.5M719.5 605.5L716.5 610.5M717.5 607.5L718.5 609.5M722.5 600.5L722.5 609.5M724.5 600.5L724.5 609.5M722.5 600.5L724.5 600.5M722.5 603.5L724.5 603.5M722.5 605.5L724.5 605.5M722.5 609.5L724.5 609.5M722.5 607.5L722.5 610.5M724.5 607.5L724.5 610.5M727.5 600.5L725.5 601.5M725.5 601.5L725.5 610.5M725.5 601.5L727.5 606.5M726.5 602.5L726.5 610.5M725.5 605.5L727.5 606.5M728.5 601.5L733.5 601.5M730.5 600.5L729.5 604.5M728.5 604.5L733.5 604.5M729.5 604.5L730.5 604.5M730.5 604.5L732.5 607.5M732.5 607.5L730.5 610.5M731.5 606.5L732.5 609.5M735.5 601.5L740.5 601.5M740.5 601.5L740.5 610.5M740.5 610.5L739.5 609.5M735.5 601.5L735.5 610.5M735.5 604.5L740.5 604.5M735.5 607.5L740.5 607.5M738.5 601.5L738.5 610.5" stroke="#00ff00" stroke-width="1" stroke-linecap="square"/>
<path d="M756.5 580.5L762.5 580.5M762.5 580.5L762.5 592.5M762.5 592.5L756.5 592.5M756.5 592.5L756.5 580.5M759.5 582.5L757.5 585.5M758.5 583.5L761.5 583.5M761.5 583.5L758.5 586.5M759.5 586.5L761.5 589.5M759.5 589.5L760.5 589.5M758.5 590.5L760.5 590.5" stroke="#00ff00" stroke-width="1" stroke-linecap="square"/>
<path d="M757.5 598.5L761.5 598.5M761.5 598.5L761.5 601.5M761.5 601.5L757.5 601.5M757.5 601.5L757.5 598.5M756.5 604.5L762.5 604.5M758.5 604.5L758.5 607.5M758.5 607.5L762.5 607.5M762.5 607.5L762.5 610.5M762.5 610.5L761.5 609.5" stroke="#00ff00" stroke-width="1" stroke-linecap="square"/>
<path d="M781.5 585.5L777.5 585.5L777.5 593.5L778.5 591.5L780.5 591.5L781.5 595.5L781.5 599.5L780.5 603.5L778.5 603.5L777.5 599.5M787.5 585.5L785.5 585.5L783.5 591.5L783.5 599.5L784.5 603.5L786.5 603.5L788.5 599.5L788.5 595.5L786.5 593.5L784.5 593.5L783.5 595.5M790.5 585.5L790.5 599.5L791.5 603.5L793.5 603.5L794.5 599.5L794.5 585.5M801.5 589.5L800.5 585.5L798.5 585.5L796.5 589.5L796.5 599.5L798.5 603.5L800.5 603.5L801.5 599.5M804.5 589.5L805.5 585.5L805.5 603.5M810.5 595.5L813.5 595.5M817.5 585.5L819.5 585.5L821.5 589.5L821.5 599.5L819.5 603.5L817.5 603.5L816.5 599.5L816.5 589.5L817.5 585.5M822.5 585.5L827.5 585.5L824.5 603.5M830.5 585.5L832.5 585.5L834.5 589.5L834.5 599.5L832.5 603.5L830.5 603.5L829.5 599.5L829.5 589.5L830.5 585.5M837.5 585.5L839.5 585.5L840.5 589.5L840.5 599.5L839.5 603.5L837.5 603.5L835.5 599.5L835.5 589.5L837.5 585.5M844.5 585.5L845.5 585.5L847.5 589.5L847.5 599.5L845.5 603.5L844.5 603.5L842.5 599.5L842.5 589.5L844.5 585.5M849.5 595.5L853.5 595.5" stroke="#00ff00" stroke-width="1" stroke-linecap="square"/>
<path d="M679.5 637.5L673.5 639.5M673.5 639.5L673.5 648.5L671.5 654.5M673.5 644.5L680.5 644.5M674.5 648.5L679.5 648.5L679.5 654.5L674.5 654.5L674.5 648.5M685.5 637.5L682.5 643.5M684.5 641.5L684.5 654.5M687.5 639.5L691.5 639.5M691.5 639.5L691.5 644.5M691.5 644.5L687.5 644.5M687.5 644.5L687.5 639.5M689.5 644.5L689.5 654.5M686.5 648.5L691.5 648.5M689.5 648.5L686.5 654.5M689.5 648.5L691.5 654.5M694.5 637.5L694.5 654.5M694.5 637.5L696.5 639.5M696.5 639.5L694.5 644.5M694.5 644.5L696.5 646.5M696.5 646.5L694.5 648.5M699.5 637.5L697.5 644.5M699.5 637.5L702.5 644.5M698.5 646.5L700.5 646.5M698.5 648.5L698.5 652.5M700.5 648.5L700.5 654.5M702.5 648.5L702.5 646.5M697.5 654.5L702.5 654.5M704.5 643.5L708.5 643.5M706.5 637.5L706.5 654.5M706.5 643.5L704.5 648.5M706.5 643.5L708.5 648.5M709.5 641.5L713.5 641.5M711.5 641.5L711.5 652.5M708.5 652.5L713.5 652.5" stroke="#00ff00" stroke-width="1" stroke-linecap="square"/>
<path d="M768.5 618.5L768.5 631.5M768.5 618.5L769.5 620.5M769.5 620.5L768.5 624.5M768.5 624.5L769.5 625.5M769.5 625.5L768.5 626.5M772.5 618.5L770.5 624.5M772.5 618.5L773.5 624.5M771.5 626.5L771.5 631.5M773.5 626.5L773.5 631.5M778.5 618.5L776.5 620.5M776.5 618.5L776.5 631.5M776.5 622.5L778.5 622.5M776.5 626.5L778.5 626.5M776.5 631.5L778.5 631.5M779.5 620.5L781.5 620.5M779.5 620.5L778.5 625.5M781.5 620.5L781.5 624.5M781.5 624.5L782.5 624.5M779.5 626.5L782.5 631.5M782.5 626.5L778.5 631.5M784.5 622.5L787.5 622.5M785.5 618.5L785.5 631.5M785.5 622.5L784.5 626.5M785.5 622.5L787.5 626.5M788.5 620.5L790.5 620.5M787.5 624.5L790.5 624.5M789.5 624.5L789.5 631.5M789.5 631.5L788.5 629.5M788.5 626.5L787.5 629.5M790.5 626.5L790.5 631.5M793.5 618.5L794.5 620.5M793.5 622.5L794.5 622.5M794.5 622.5L794.5 629.5M794.5 629.5L795.5 631.5M796.5 620.5L799.5 620.5M799.5 620.5L799.5 624.5M799.5 624.5L796.5 624.5M796.5 624.5L796.5 631.5M796.5 631.5L799.5 631.5M799.5 631.5L799.5 629.5" stroke="#00ff00" stroke-width="1" stroke-linecap="square"/>
<path d="M818.5 619.5L819.5 621.5M822.5 619.5L821.5 621.5M818.5 622.5L822.5 622.5M822.5 622.5L822.5 627.5M822.5 627.5L818.5 627.5M818.5 627.5L818.5 622.5M818.5 624.5L822.5 624.5M820.5 622.5L820.5 631.5M817.5 628.5L823.5 628.5M827.5 619.5L825.5 623.5M827.5 622.5L827.5 631.5M830.5 619.5L830.5 621.5M828.5 622.5L832.5 622.5M829.5 624.5L829.5 630.5M831.5 624.5L830.5 630.5M828.5 631.5L832.5 631.5" stroke="#00ff00" stroke-width="1" stroke-linecap="square"/>
<path d="M763.5 639.5L767.5 639.5M765.5 639.5L765.5 651.5" stroke="#00ff00" stroke-width="1" stroke-linecap="square"/>
<path d="M769.5 661.5L769.5 669.5M771.5 661.5L771.5 669.5M766.5 665.5L773.5 665.5M766.5 669.5L773.5 669.5M769.5 670.5L766.5 672.5M771.5 670.5L773.5 672.5" stroke="#00ff00" stroke-width="1" stroke-linecap="square"/>
<path d="M805.5 662.5L807.5 662.5M807.5 662.5L807.5 666.5M807.5 666.5L805.5 666.5M805.5 666.5L805.5 669.5M805.5 669.5L807.5 669.5M807.5 669.5L807.5 672.5M807.5 672.5L806.5 670.5M810.5 661.5L810.5 672.5M812.5 661.5L810.5 666.5M809.5 667.5L812.5 667.5M810.5 667.5L812.5 672.5" stroke="#00ff00" stroke-width="1" stroke-linecap="square"/>
<path d="M846.5 661.5L845.5 665.5M845.5 663.5L848.5 663.5M850.5 661.5L849.5 665.5M849.5 663.5L852.5 663.5M846.5 667.5L850.5 667.5M850.5 667.5L850.5 669.5M850.5 669.5L846.5 669.5M846.5 669.5L846.5 672.5M846.5 672.5L851.5 672.5M851.5 672.5L851.5 669.5M849.5 667.5L849.5 672.5M849.5 672.5L846.5 672.5" stroke="#00ff00" stroke-width="1" stroke-linecap="square"/>
<path d="M854.5 620.5L852.5 620.5M851.5 622.5L856.5 622.5M852.5 623.5L855.5 623.5M855.5 623.5L855.5 627.5M855.5 627.5L852.5 627.5M852.5 627.5L852.5 623.5M852.5 624.5L855.5 624.5M854.5 620.5L856.5 630.5M851.5 628.5L855.5 628.5M851.5 630.5L856.5 630.5" stroke="#00ff00" stroke-width="1" stroke-linecap="square"/>
<path d="M615.5 687.5L620.5 687.5M618.5 682.5L618.5 697.5M618.5 687.5L615.5 692.5M618.5 687.5L620.5 692.5M621.5 687.5L626.5 687.5M623.5 682.5L623.5 697.5M623.5 697.5L622.5 695.5M623.5 687.5L620.5 697.5" stroke="#00ff00" stroke-width="1" stroke-linecap="square"/>
</svg>
</body></html>
